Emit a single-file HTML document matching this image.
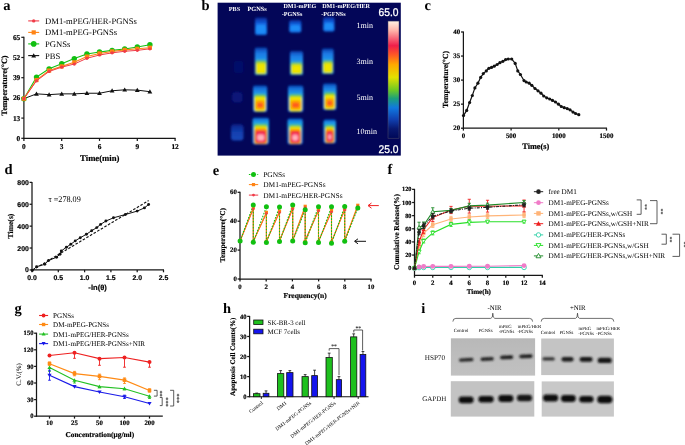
<!DOCTYPE html>
<html><head><meta charset="utf-8"><style>
html,body{margin:0;padding:0;background:#fff;width:685px;height:445px;overflow:hidden}
svg{display:block;will-change:transform;text-rendering:geometricPrecision}
</style></head><body>
<svg width="685" height="445" viewBox="0 0 685 445">
<text x="3.20" y="10.20" font-family='"Liberation Serif", serif' font-size="14.5" font-weight="bold" text-anchor="start" fill="#000">a</text>
<line x1="23.90" y1="36.70" x2="23.90" y2="138.90" stroke="#161616" stroke-width="1.2"/>
<line x1="23.30" y1="138.30" x2="175.60" y2="138.30" stroke="#161616" stroke-width="1.2"/>
<line x1="21.30" y1="138.30" x2="23.90" y2="138.30" stroke="#161616" stroke-width="1.2"/>
<text x="20.30" y="140.70" font-family='"Liberation Serif", serif' font-size="7.4" font-weight="bold" text-anchor="end" fill="#000" stroke="#000" stroke-width="0.18">0</text>
<line x1="21.30" y1="118.10" x2="23.90" y2="118.10" stroke="#161616" stroke-width="1.2"/>
<text x="20.30" y="120.50" font-family='"Liberation Serif", serif' font-size="7.4" font-weight="bold" text-anchor="end" fill="#000" stroke="#000" stroke-width="0.18">13</text>
<line x1="21.30" y1="97.90" x2="23.90" y2="97.90" stroke="#161616" stroke-width="1.2"/>
<text x="20.30" y="100.30" font-family='"Liberation Serif", serif' font-size="7.4" font-weight="bold" text-anchor="end" fill="#000" stroke="#000" stroke-width="0.18">26</text>
<line x1="21.30" y1="77.70" x2="23.90" y2="77.70" stroke="#161616" stroke-width="1.2"/>
<text x="20.30" y="80.10" font-family='"Liberation Serif", serif' font-size="7.4" font-weight="bold" text-anchor="end" fill="#000" stroke="#000" stroke-width="0.18">39</text>
<line x1="21.30" y1="57.50" x2="23.90" y2="57.50" stroke="#161616" stroke-width="1.2"/>
<text x="20.30" y="59.90" font-family='"Liberation Serif", serif' font-size="7.4" font-weight="bold" text-anchor="end" fill="#000" stroke="#000" stroke-width="0.18">52</text>
<line x1="21.30" y1="37.30" x2="23.90" y2="37.30" stroke="#161616" stroke-width="1.2"/>
<text x="20.30" y="39.70" font-family='"Liberation Serif", serif' font-size="7.4" font-weight="bold" text-anchor="end" fill="#000" stroke="#000" stroke-width="0.18">65</text>
<line x1="23.90" y1="138.30" x2="23.90" y2="140.90" stroke="#161616" stroke-width="1.2"/>
<text x="23.90" y="148.90" font-family='"Liberation Serif", serif' font-size="7.4" font-weight="bold" text-anchor="middle" fill="#000" stroke="#000" stroke-width="0.18">0</text>
<line x1="61.70" y1="138.30" x2="61.70" y2="140.90" stroke="#161616" stroke-width="1.2"/>
<text x="61.70" y="148.90" font-family='"Liberation Serif", serif' font-size="7.4" font-weight="bold" text-anchor="middle" fill="#000" stroke="#000" stroke-width="0.18">3</text>
<line x1="99.50" y1="138.30" x2="99.50" y2="140.90" stroke="#161616" stroke-width="1.2"/>
<text x="99.50" y="148.90" font-family='"Liberation Serif", serif' font-size="7.4" font-weight="bold" text-anchor="middle" fill="#000" stroke="#000" stroke-width="0.18">6</text>
<line x1="137.30" y1="138.30" x2="137.30" y2="140.90" stroke="#161616" stroke-width="1.2"/>
<text x="137.30" y="148.90" font-family='"Liberation Serif", serif' font-size="7.4" font-weight="bold" text-anchor="middle" fill="#000" stroke="#000" stroke-width="0.18">9</text>
<line x1="175.10" y1="138.30" x2="175.10" y2="140.90" stroke="#161616" stroke-width="1.2"/>
<text x="175.10" y="148.90" font-family='"Liberation Serif", serif' font-size="7.4" font-weight="bold" text-anchor="middle" fill="#000" stroke="#000" stroke-width="0.18">12</text>
<text x="99.80" y="160.80" font-family='"Liberation Serif", serif' font-size="8.7" font-weight="bold" text-anchor="middle" fill="#000" stroke="#000" stroke-width="0.18">Time(min)</text>
<text x="7.00" y="85.50" font-family='"Liberation Serif", serif' font-size="8.2" font-weight="bold" text-anchor="middle" fill="#000" transform="rotate(-90 7.0 85.5)" stroke="#000" stroke-width="0.18">Temperature(°C)</text>
<polyline points="23.90,98.68 36.50,93.86 49.10,94.64 61.70,93.86 74.30,93.86 86.90,93.24 99.50,93.24 112.10,90.75 124.70,89.82 137.30,90.13 149.90,91.68" fill="none" stroke="#111" stroke-width="1.0"/>
<polygon points="23.90,96.28 26.30,100.48 21.50,100.48" fill="#111" stroke="none" stroke-width="0"/>
<polygon points="36.50,91.46 38.90,95.66 34.10,95.66" fill="#111" stroke="none" stroke-width="0"/>
<polygon points="49.10,92.24 51.50,96.44 46.70,96.44" fill="#111" stroke="none" stroke-width="0"/>
<polygon points="61.70,91.46 64.10,95.66 59.30,95.66" fill="#111" stroke="none" stroke-width="0"/>
<polygon points="74.30,91.46 76.70,95.66 71.90,95.66" fill="#111" stroke="none" stroke-width="0"/>
<polygon points="86.90,90.84 89.30,95.04 84.50,95.04" fill="#111" stroke="none" stroke-width="0"/>
<polygon points="99.50,90.84 101.90,95.04 97.10,95.04" fill="#111" stroke="none" stroke-width="0"/>
<polygon points="112.10,88.35 114.50,92.55 109.70,92.55" fill="#111" stroke="none" stroke-width="0"/>
<polygon points="124.70,87.42 127.10,91.62 122.30,91.62" fill="#111" stroke="none" stroke-width="0"/>
<polygon points="137.30,87.73 139.70,91.93 134.90,91.93" fill="#111" stroke="none" stroke-width="0"/>
<polygon points="149.90,89.28 152.30,93.48 147.50,93.48" fill="#111" stroke="none" stroke-width="0"/>
<polyline points="23.90,98.68 36.50,77.08 49.10,68.84 61.70,63.72 74.30,58.59 86.90,53.93 99.50,52.06 112.10,50.35 124.70,48.95 137.30,46.93 149.90,44.76" fill="none" stroke="#11c011" stroke-width="1.1"/>
<circle cx="23.90" cy="98.68" r="2.7" fill="#11c011" stroke="none" stroke-width="0"/>
<circle cx="36.50" cy="77.08" r="2.7" fill="#11c011" stroke="none" stroke-width="0"/>
<circle cx="49.10" cy="68.84" r="2.7" fill="#11c011" stroke="none" stroke-width="0"/>
<circle cx="61.70" cy="63.72" r="2.7" fill="#11c011" stroke="none" stroke-width="0"/>
<circle cx="74.30" cy="58.59" r="2.7" fill="#11c011" stroke="none" stroke-width="0"/>
<circle cx="86.90" cy="53.93" r="2.7" fill="#11c011" stroke="none" stroke-width="0"/>
<circle cx="99.50" cy="52.06" r="2.7" fill="#11c011" stroke="none" stroke-width="0"/>
<circle cx="112.10" cy="50.35" r="2.7" fill="#11c011" stroke="none" stroke-width="0"/>
<circle cx="124.70" cy="48.95" r="2.7" fill="#11c011" stroke="none" stroke-width="0"/>
<circle cx="137.30" cy="46.93" r="2.7" fill="#11c011" stroke="none" stroke-width="0"/>
<circle cx="149.90" cy="44.76" r="2.7" fill="#11c011" stroke="none" stroke-width="0"/>
<polyline points="23.90,98.68 36.50,80.03 49.10,70.55 61.70,66.36 74.30,62.32 86.90,56.57 99.50,53.46 112.10,51.44 124.70,49.89 137.30,48.80 149.90,47.71" fill="none" stroke="#ff8414" stroke-width="1.1"/>
<rect x="21.80" y="96.58" width="4.2" height="4.2" fill="#ff8414" stroke="none" stroke-width="0"/>
<rect x="34.40" y="77.93" width="4.2" height="4.2" fill="#ff8414" stroke="none" stroke-width="0"/>
<rect x="47.00" y="68.45" width="4.2" height="4.2" fill="#ff8414" stroke="none" stroke-width="0"/>
<rect x="59.60" y="64.26" width="4.2" height="4.2" fill="#ff8414" stroke="none" stroke-width="0"/>
<rect x="72.20" y="60.22" width="4.2" height="4.2" fill="#ff8414" stroke="none" stroke-width="0"/>
<rect x="84.80" y="54.47" width="4.2" height="4.2" fill="#ff8414" stroke="none" stroke-width="0"/>
<rect x="97.40" y="51.36" width="4.2" height="4.2" fill="#ff8414" stroke="none" stroke-width="0"/>
<rect x="110.00" y="49.34" width="4.2" height="4.2" fill="#ff8414" stroke="none" stroke-width="0"/>
<rect x="122.60" y="47.79" width="4.2" height="4.2" fill="#ff8414" stroke="none" stroke-width="0"/>
<rect x="135.20" y="46.70" width="4.2" height="4.2" fill="#ff8414" stroke="none" stroke-width="0"/>
<rect x="147.80" y="45.61" width="4.2" height="4.2" fill="#ff8414" stroke="none" stroke-width="0"/>
<polyline points="23.90,98.68 36.50,80.81 49.10,71.48 61.70,67.13 74.30,64.03 86.90,58.28 99.50,55.01 112.10,52.84 124.70,51.28 137.30,50.35 149.90,48.80" fill="none" stroke="#f03c48" stroke-width="1.0"/>
<circle cx="23.90" cy="98.68" r="1.6" fill="#f03c48" stroke="none" stroke-width="0"/>
<circle cx="36.50" cy="80.81" r="1.6" fill="#f03c48" stroke="none" stroke-width="0"/>
<circle cx="49.10" cy="71.48" r="1.6" fill="#f03c48" stroke="none" stroke-width="0"/>
<circle cx="61.70" cy="67.13" r="1.6" fill="#f03c48" stroke="none" stroke-width="0"/>
<circle cx="74.30" cy="64.03" r="1.6" fill="#f03c48" stroke="none" stroke-width="0"/>
<circle cx="86.90" cy="58.28" r="1.6" fill="#f03c48" stroke="none" stroke-width="0"/>
<circle cx="99.50" cy="55.01" r="1.6" fill="#f03c48" stroke="none" stroke-width="0"/>
<circle cx="112.10" cy="52.84" r="1.6" fill="#f03c48" stroke="none" stroke-width="0"/>
<circle cx="124.70" cy="51.28" r="1.6" fill="#f03c48" stroke="none" stroke-width="0"/>
<circle cx="137.30" cy="50.35" r="1.6" fill="#f03c48" stroke="none" stroke-width="0"/>
<circle cx="149.90" cy="48.80" r="1.6" fill="#f03c48" stroke="none" stroke-width="0"/>
<line x1="28.20" y1="20.90" x2="39.20" y2="20.90" stroke="#f03c48" stroke-width="1.1"/>
<circle cx="33.70" cy="20.90" r="1.7" fill="#f03c48" stroke="none" stroke-width="0"/>
<text x="45.10" y="23.80" font-family='"Liberation Serif", serif' font-size="8.6" font-weight="normal" text-anchor="start" fill="#000">DM1-mPEG/HER-PGNSs</text>
<line x1="28.20" y1="32.40" x2="39.20" y2="32.40" stroke="#ff8414" stroke-width="1.1"/>
<rect x="31.60" y="30.30" width="4.2" height="4.2" fill="#ff8414" stroke="none" stroke-width="0"/>
<text x="45.10" y="35.30" font-family='"Liberation Serif", serif' font-size="8.6" font-weight="normal" text-anchor="start" fill="#000">DM1-mPEG-PGNSs</text>
<line x1="28.20" y1="43.90" x2="39.20" y2="43.90" stroke="#11c011" stroke-width="1.1"/>
<circle cx="33.70" cy="43.90" r="2.8" fill="#11c011" stroke="none" stroke-width="0"/>
<text x="45.10" y="46.80" font-family='"Liberation Serif", serif' font-size="8.6" font-weight="normal" text-anchor="start" fill="#000">PGNSs</text>
<line x1="28.20" y1="55.60" x2="39.20" y2="55.60" stroke="#111" stroke-width="1.1"/>
<polygon points="33.70,53.20 36.10,57.40 31.30,57.40" fill="#111" stroke="none" stroke-width="0"/>
<text x="45.10" y="58.50" font-family='"Liberation Serif", serif' font-size="8.6" font-weight="normal" text-anchor="start" fill="#000">PBS</text>
<text x="201.60" y="9.80" font-family='"Liberation Serif", serif' font-size="14.5" font-weight="bold" text-anchor="start" fill="#000">b</text>
<defs><filter id="bl1" x="-50%" y="-50%" width="200%" height="200%"><feGaussianBlur stdDeviation="1.15"/></filter><filter id="bl2" x="-50%" y="-50%" width="200%" height="200%"><feGaussianBlur stdDeviation="0.7"/></filter><linearGradient id="cbar" x1="0" y1="0" x2="0" y2="1"><stop offset="0" stop-color="#fff2e4"/><stop offset="0.08" stop-color="#ffb4aa"/><stop offset="0.21" stop-color="#f01e4a"/><stop offset="0.29" stop-color="#ff5a24"/><stop offset="0.37" stop-color="#ffa800"/><stop offset="0.48" stop-color="#e4e000"/><stop offset="0.59" stop-color="#6cc824"/><stop offset="0.66" stop-color="#1ca07a"/><stop offset="0.74" stop-color="#1078e0"/><stop offset="0.84" stop-color="#1040b0"/><stop offset="0.92" stop-color="#081870"/><stop offset="1" stop-color="#000858"/></linearGradient></defs>
<rect x="217.6" y="2.7" width="183.20000000000002" height="152.9" fill="#030658"/>
<defs><linearGradient id="gpbs" x1="0" y1="0" x2="0" y2="1"><stop offset="0" stop-color="#0a2088"/><stop offset="0.5" stop-color="#1240b0"/><stop offset="1" stop-color="#1448b8"/></linearGradient><linearGradient id="gb1" x1="0" y1="0" x2="0" y2="1"><stop offset="0" stop-color="#0a2898"/><stop offset="0.35" stop-color="#1262e0"/><stop offset="0.7" stop-color="#1680f0"/><stop offset="1" stop-color="#1478ec"/></linearGradient><linearGradient id="gb3" x1="0" y1="0" x2="0" y2="1"><stop offset="0" stop-color="#0a3aa8"/><stop offset="0.2" stop-color="#1a78e4"/><stop offset="0.45" stop-color="#2296ec"/><stop offset="1" stop-color="#2296ec"/></linearGradient><linearGradient id="gb5" x1="0" y1="0" x2="0" y2="1"><stop offset="0" stop-color="#0a48b8"/><stop offset="0.18" stop-color="#1a80e4"/><stop offset="0.34" stop-color="#22a0e8"/><stop offset="1" stop-color="#1a70e0"/></linearGradient><linearGradient id="gb10" x1="0" y1="0" x2="0" y2="1"><stop offset="0" stop-color="#0a58c8"/><stop offset="0.12" stop-color="#1a90e8"/><stop offset="0.22" stop-color="#22a8e0"/><stop offset="1" stop-color="#1a70e0"/></linearGradient></defs>
<g filter="url(#bl1)"><rect x="255.00" y="17.50" width="12.00" height="17.50" rx="2" fill="url(#gb1)"/><rect x="256.50" y="24.85" width="9.00" height="8.15" rx="2" fill="#1c8cf8"/><rect x="289.20" y="20.00" width="12.10" height="12.50" rx="2" fill="url(#gb1)"/><rect x="290.70" y="25.25" width="9.10" height="5.25" rx="2" fill="#1c8cf8"/><rect x="323.20" y="17.00" width="11.30" height="14.50" rx="2" fill="url(#gb1)"/><rect x="324.70" y="23.09" width="8.30" height="6.41" rx="2" fill="#1c8cf8"/><rect x="234.00" y="61.00" width="9.50" height="12.00" rx="3" fill="#050c6a"/><rect x="254.80" y="47.40" width="12.40" height="27.60" rx="1.5" fill="url(#gb3)"/><rect x="255.40" y="60.37" width="11.20" height="14.03" rx="2" fill="#60c060"/><rect x="256.00" y="62.58" width="10.00" height="11.22" rx="2" fill="#d8e000"/><rect x="257.00" y="64.51" width="8.00" height="8.29" rx="2" fill="#f0e400"/><rect x="290.00" y="51.00" width="13.00" height="24.00" rx="1.5" fill="url(#gb3)"/><rect x="290.60" y="62.28" width="11.80" height="12.12" rx="2" fill="#60c060"/><rect x="291.20" y="64.20" width="10.60" height="9.60" rx="2" fill="#d8e000"/><rect x="292.20" y="65.88" width="8.60" height="6.92" rx="2" fill="#f0e400"/><rect x="322.00" y="48.40" width="11.60" height="25.60" rx="1.5" fill="url(#gb3)"/><rect x="322.60" y="60.43" width="10.40" height="12.97" rx="2" fill="#60c060"/><rect x="323.20" y="62.48" width="9.20" height="10.32" rx="2" fill="#d8e000"/><rect x="324.20" y="64.27" width="7.20" height="7.53" rx="2" fill="#f0e400"/><rect x="232.00" y="92.00" width="10.50" height="10.50" rx="3" fill="#071278"/><rect x="253.00" y="85.40" width="14.20" height="26.60" rx="2" fill="url(#gb5)"/><rect x="254.20" y="94.44" width="11.80" height="17.16" rx="2" fill="#68c838"/><rect x="254.40" y="96.84" width="11.40" height="14.46" rx="2" fill="#f0e400"/><rect x="255.60" y="100.30" width="9.00" height="9.30" rx="2" fill="#ffa000"/><rect x="257.00" y="102.69" width="6.20" height="4.91" rx="2" fill="#ff5a1c"/><rect x="288.00" y="85.40" width="15.30" height="26.60" rx="2" fill="url(#gb5)"/><rect x="289.20" y="94.44" width="12.90" height="17.16" rx="2" fill="#68c838"/><rect x="289.40" y="96.84" width="12.50" height="14.46" rx="2" fill="#f0e400"/><rect x="290.60" y="100.30" width="10.10" height="9.30" rx="2" fill="#ffa000"/><rect x="292.00" y="102.69" width="7.30" height="4.91" rx="2" fill="#ff5a1c"/><rect x="323.00" y="83.50" width="13.50" height="26.50" rx="2" fill="url(#gb5)"/><rect x="324.20" y="92.51" width="11.10" height="17.09" rx="2" fill="#68c838"/><rect x="324.40" y="94.89" width="10.70" height="14.41" rx="2" fill="#f0e400"/><rect x="325.60" y="98.34" width="8.30" height="9.26" rx="2" fill="#ffa000"/><rect x="327.00" y="100.72" width="5.50" height="4.88" rx="2" fill="#ff5a1c"/><rect x="231.00" y="124.30" width="12.50" height="16.20" rx="3" fill="url(#gpbs)"/><rect x="252.50" y="117.70" width="16.50" height="26.60" rx="2" fill="url(#gb10)"/><rect x="254.10" y="124.08" width="13.30" height="20.02" rx="2" fill="#60c840"/><rect x="254.30" y="126.21" width="12.90" height="17.79" rx="2" fill="#f0e000"/><rect x="254.90" y="128.87" width="11.70" height="14.53" rx="2" fill="#ff7a00"/><rect x="255.50" y="131.00" width="10.50" height="11.80" rx="2" fill="#f01848"/><rect x="256.80" y="133.66" width="7.90" height="7.44" rx="2" fill="#ff7898"/><rect x="257.60" y="135.26" width="6.30" height="4.64" rx="2" fill="#ffb4bc"/><rect x="287.50" y="118.60" width="15.30" height="25.70" rx="2" fill="url(#gb10)"/><rect x="289.10" y="124.77" width="12.10" height="19.33" rx="2" fill="#60c840"/><rect x="289.30" y="126.82" width="11.70" height="17.18" rx="2" fill="#f0e000"/><rect x="289.90" y="129.39" width="10.50" height="14.01" rx="2" fill="#ff7a00"/><rect x="290.50" y="131.45" width="9.30" height="11.35" rx="2" fill="#f01848"/><rect x="291.80" y="134.02" width="6.70" height="7.08" rx="2" fill="#ff7898"/><rect x="292.60" y="135.56" width="5.10" height="4.34" rx="2" fill="#ffb4bc"/><rect x="323.50" y="119.60" width="12.50" height="23.70" rx="2" fill="url(#gb10)"/><rect x="325.10" y="125.29" width="9.30" height="17.81" rx="2" fill="#60c840"/><rect x="325.30" y="127.18" width="8.90" height="15.82" rx="2" fill="#f0e000"/><rect x="325.90" y="129.55" width="7.70" height="12.85" rx="2" fill="#ff7a00"/><rect x="326.50" y="131.45" width="6.50" height="10.35" rx="2" fill="#f01848"/><rect x="327.80" y="133.82" width="3.90" height="6.28" rx="2" fill="#ff7898"/><rect x="328.60" y="135.24" width="2.30" height="3.66" rx="2" fill="#ffb4bc"/></g>
<rect x="388.0" y="21.1" width="11" height="117.1" fill="url(#cbar)" stroke="#50506a" stroke-width="0.5"/>
<text x="388.50" y="16.30" font-family='"Liberation Sans", sans-serif' font-size="11.2" font-weight="normal" text-anchor="middle" fill="#fff" stroke="#fff" stroke-width="0.3" textLength="20" lengthAdjust="spacingAndGlyphs">65.0</text>
<text x="388.50" y="153.30" font-family='"Liberation Sans", sans-serif' font-size="11.2" font-weight="normal" text-anchor="middle" fill="#fff" stroke="#fff" stroke-width="0.3" textLength="20" lengthAdjust="spacingAndGlyphs">25.0</text>
<text x="356.60" y="27.80" font-family='"Liberation Serif", serif' font-size="8.0" font-weight="normal" text-anchor="start" fill="#fff">1min</text>
<text x="356.60" y="64.00" font-family='"Liberation Serif", serif' font-size="8.0" font-weight="normal" text-anchor="start" fill="#fff">3min</text>
<text x="356.60" y="99.50" font-family='"Liberation Serif", serif' font-size="8.0" font-weight="normal" text-anchor="start" fill="#fff">5min</text>
<text x="356.60" y="134.40" font-family='"Liberation Serif", serif' font-size="8.0" font-weight="normal" text-anchor="start" fill="#fff">10min</text>
<text x="228.80" y="10.60" font-family='"Liberation Serif", serif' font-size="6.2" font-weight="bold" text-anchor="start" fill="#fff">PBS</text>
<text x="247.40" y="10.60" font-family='"Liberation Serif", serif' font-size="6.35" font-weight="bold" text-anchor="start" fill="#fff">PGNSs</text>
<text x="283.40" y="8.20" font-family='"Liberation Serif", serif' font-size="6.1" font-weight="bold" text-anchor="start" fill="#fff">DM1-mPEG</text>
<text x="281.70" y="15.80" font-family='"Liberation Serif", serif' font-size="6.1" font-weight="bold" text-anchor="start" fill="#fff">-PGNSs</text>
<text x="322.20" y="8.20" font-family='"Liberation Serif", serif' font-size="6.1" font-weight="bold" text-anchor="start" fill="#fff">DM1-mPEG/HER</text>
<text x="321.20" y="15.80" font-family='"Liberation Serif", serif' font-size="6.1" font-weight="bold" text-anchor="start" fill="#fff">-PGFNSs</text>
<text x="424.60" y="10.00" font-family='"Liberation Serif", serif' font-size="14.5" font-weight="bold" text-anchor="start" fill="#000">c</text>
<line x1="463.40" y1="31.50" x2="463.40" y2="128.70" stroke="#161616" stroke-width="1.25"/>
<line x1="461.00" y1="128.20" x2="463.40" y2="128.20" stroke="#161616" stroke-width="1.25"/>
<text x="460.20" y="130.10" font-family='"Liberation Serif", serif' font-size="6.9" font-weight="bold" text-anchor="end" fill="#000" stroke="#000" stroke-width="0.18">20</text>
<line x1="461.00" y1="104.15" x2="463.40" y2="104.15" stroke="#161616" stroke-width="1.25"/>
<text x="460.20" y="106.05" font-family='"Liberation Serif", serif' font-size="6.9" font-weight="bold" text-anchor="end" fill="#000" stroke="#000" stroke-width="0.18">25</text>
<line x1="461.00" y1="80.10" x2="463.40" y2="80.10" stroke="#161616" stroke-width="1.25"/>
<text x="460.20" y="82.00" font-family='"Liberation Serif", serif' font-size="6.9" font-weight="bold" text-anchor="end" fill="#000" stroke="#000" stroke-width="0.18">30</text>
<line x1="461.00" y1="56.05" x2="463.40" y2="56.05" stroke="#161616" stroke-width="1.25"/>
<text x="460.20" y="57.95" font-family='"Liberation Serif", serif' font-size="6.9" font-weight="bold" text-anchor="end" fill="#000" stroke="#000" stroke-width="0.18">35</text>
<line x1="461.00" y1="32.00" x2="463.40" y2="32.00" stroke="#161616" stroke-width="1.25"/>
<text x="460.20" y="33.90" font-family='"Liberation Serif", serif' font-size="6.9" font-weight="bold" text-anchor="end" fill="#000" stroke="#000" stroke-width="0.18">40</text>
<line x1="462.90" y1="128.20" x2="607.00" y2="128.20" stroke="#161616" stroke-width="1.25"/>
<line x1="463.40" y1="128.20" x2="463.40" y2="130.60" stroke="#161616" stroke-width="1.25"/>
<text x="463.40" y="137.90" font-family='"Liberation Serif", serif' font-size="6.9" font-weight="bold" text-anchor="middle" fill="#000" stroke="#000" stroke-width="0.18">0</text>
<line x1="511.10" y1="128.20" x2="511.10" y2="130.60" stroke="#161616" stroke-width="1.25"/>
<text x="511.10" y="137.90" font-family='"Liberation Serif", serif' font-size="6.9" font-weight="bold" text-anchor="middle" fill="#000" stroke="#000" stroke-width="0.18">500</text>
<line x1="558.80" y1="128.20" x2="558.80" y2="130.60" stroke="#161616" stroke-width="1.25"/>
<text x="558.80" y="137.90" font-family='"Liberation Serif", serif' font-size="6.9" font-weight="bold" text-anchor="middle" fill="#000" stroke="#000" stroke-width="0.18">1000</text>
<line x1="606.50" y1="128.20" x2="606.50" y2="130.60" stroke="#161616" stroke-width="1.25"/>
<text x="606.50" y="137.90" font-family='"Liberation Serif", serif' font-size="6.9" font-weight="bold" text-anchor="middle" fill="#000" stroke="#000" stroke-width="0.18">1500</text>
<text x="535.80" y="149.20" font-family='"Liberation Serif", serif' font-size="8.3" font-weight="bold" text-anchor="middle" fill="#000" stroke="#000" stroke-width="0.18">Time(s)</text>
<text x="448.40" y="79.40" font-family='"Liberation Serif", serif' font-size="7.8" font-weight="bold" text-anchor="middle" fill="#000" transform="rotate(-90 448.4 79.4)" stroke="#000" stroke-width="0.18">Temperature(°C)</text>
<polyline points="463.50,115.60 466.70,110.40 469.60,102.50 472.30,95.50 474.90,87.90 477.90,83.20 480.70,77.40 483.30,73.60 486.30,70.90 488.90,68.30 491.50,67.40 494.20,66.20 497.10,64.50 499.90,62.70 502.90,61.30 505.60,59.60 508.20,59.00 511.70,59.00 515.20,63.40 517.80,70.90 520.40,74.50 524.00,80.60 526.20,82.00 529.20,83.20 531.80,85.30 535.00,88.50 538.00,90.80 541.00,93.20 543.70,96.00 546.70,97.80 549.70,99.00 552.50,100.40 555.50,102.00 558.50,104.20 561.30,106.50 564.20,107.70 567.20,108.60 570.00,109.80 573.00,112.10 575.60,113.50 578.80,114.70" fill="none" stroke="#111" stroke-width="1.2"/>
<circle cx="463.50" cy="115.60" r="1.6" fill="#111" stroke="none" stroke-width="0"/>
<circle cx="466.70" cy="110.40" r="1.6" fill="#111" stroke="none" stroke-width="0"/>
<circle cx="469.60" cy="102.50" r="1.6" fill="#111" stroke="none" stroke-width="0"/>
<circle cx="472.30" cy="95.50" r="1.6" fill="#111" stroke="none" stroke-width="0"/>
<circle cx="474.90" cy="87.90" r="1.6" fill="#111" stroke="none" stroke-width="0"/>
<circle cx="477.90" cy="83.20" r="1.6" fill="#111" stroke="none" stroke-width="0"/>
<circle cx="480.70" cy="77.40" r="1.6" fill="#111" stroke="none" stroke-width="0"/>
<circle cx="483.30" cy="73.60" r="1.6" fill="#111" stroke="none" stroke-width="0"/>
<circle cx="486.30" cy="70.90" r="1.6" fill="#111" stroke="none" stroke-width="0"/>
<circle cx="488.90" cy="68.30" r="1.6" fill="#111" stroke="none" stroke-width="0"/>
<circle cx="491.50" cy="67.40" r="1.6" fill="#111" stroke="none" stroke-width="0"/>
<circle cx="494.20" cy="66.20" r="1.6" fill="#111" stroke="none" stroke-width="0"/>
<circle cx="497.10" cy="64.50" r="1.6" fill="#111" stroke="none" stroke-width="0"/>
<circle cx="499.90" cy="62.70" r="1.6" fill="#111" stroke="none" stroke-width="0"/>
<circle cx="502.90" cy="61.30" r="1.6" fill="#111" stroke="none" stroke-width="0"/>
<circle cx="505.60" cy="59.60" r="1.6" fill="#111" stroke="none" stroke-width="0"/>
<circle cx="508.20" cy="59.00" r="1.6" fill="#111" stroke="none" stroke-width="0"/>
<circle cx="511.70" cy="59.00" r="1.6" fill="#111" stroke="none" stroke-width="0"/>
<circle cx="515.20" cy="63.40" r="1.6" fill="#111" stroke="none" stroke-width="0"/>
<circle cx="517.80" cy="70.90" r="1.6" fill="#111" stroke="none" stroke-width="0"/>
<circle cx="520.40" cy="74.50" r="1.6" fill="#111" stroke="none" stroke-width="0"/>
<circle cx="524.00" cy="80.60" r="1.6" fill="#111" stroke="none" stroke-width="0"/>
<circle cx="526.20" cy="82.00" r="1.6" fill="#111" stroke="none" stroke-width="0"/>
<circle cx="529.20" cy="83.20" r="1.6" fill="#111" stroke="none" stroke-width="0"/>
<circle cx="531.80" cy="85.30" r="1.6" fill="#111" stroke="none" stroke-width="0"/>
<circle cx="535.00" cy="88.50" r="1.6" fill="#111" stroke="none" stroke-width="0"/>
<circle cx="538.00" cy="90.80" r="1.6" fill="#111" stroke="none" stroke-width="0"/>
<circle cx="541.00" cy="93.20" r="1.6" fill="#111" stroke="none" stroke-width="0"/>
<circle cx="543.70" cy="96.00" r="1.6" fill="#111" stroke="none" stroke-width="0"/>
<circle cx="546.70" cy="97.80" r="1.6" fill="#111" stroke="none" stroke-width="0"/>
<circle cx="549.70" cy="99.00" r="1.6" fill="#111" stroke="none" stroke-width="0"/>
<circle cx="552.50" cy="100.40" r="1.6" fill="#111" stroke="none" stroke-width="0"/>
<circle cx="555.50" cy="102.00" r="1.6" fill="#111" stroke="none" stroke-width="0"/>
<circle cx="558.50" cy="104.20" r="1.6" fill="#111" stroke="none" stroke-width="0"/>
<circle cx="561.30" cy="106.50" r="1.6" fill="#111" stroke="none" stroke-width="0"/>
<circle cx="564.20" cy="107.70" r="1.6" fill="#111" stroke="none" stroke-width="0"/>
<circle cx="567.20" cy="108.60" r="1.6" fill="#111" stroke="none" stroke-width="0"/>
<circle cx="570.00" cy="109.80" r="1.6" fill="#111" stroke="none" stroke-width="0"/>
<circle cx="573.00" cy="112.10" r="1.6" fill="#111" stroke="none" stroke-width="0"/>
<circle cx="575.60" cy="113.50" r="1.6" fill="#111" stroke="none" stroke-width="0"/>
<circle cx="578.80" cy="114.70" r="1.6" fill="#111" stroke="none" stroke-width="0"/>
<text x="4.60" y="174.00" font-family='"Liberation Serif", serif' font-size="14.5" font-weight="bold" text-anchor="start" fill="#000">d</text>
<line x1="32.00" y1="181.88" x2="32.00" y2="270.40" stroke="#161616" stroke-width="1.25"/>
<line x1="29.60" y1="269.90" x2="32.00" y2="269.90" stroke="#161616" stroke-width="1.25"/>
<text x="28.80" y="272.40" font-family='"Liberation Sans", sans-serif' font-size="6.9" font-weight="bold" text-anchor="end" fill="#000" stroke="#000" stroke-width="0.18">0</text>
<line x1="29.60" y1="248.02" x2="32.00" y2="248.02" stroke="#161616" stroke-width="1.25"/>
<text x="28.80" y="250.52" font-family='"Liberation Sans", sans-serif' font-size="6.9" font-weight="bold" text-anchor="end" fill="#000" stroke="#000" stroke-width="0.18">200</text>
<line x1="29.60" y1="226.14" x2="32.00" y2="226.14" stroke="#161616" stroke-width="1.25"/>
<text x="28.80" y="228.64" font-family='"Liberation Sans", sans-serif' font-size="6.9" font-weight="bold" text-anchor="end" fill="#000" stroke="#000" stroke-width="0.18">400</text>
<line x1="29.60" y1="204.26" x2="32.00" y2="204.26" stroke="#161616" stroke-width="1.25"/>
<text x="28.80" y="206.76" font-family='"Liberation Sans", sans-serif' font-size="6.9" font-weight="bold" text-anchor="end" fill="#000" stroke="#000" stroke-width="0.18">600</text>
<line x1="29.60" y1="182.38" x2="32.00" y2="182.38" stroke="#161616" stroke-width="1.25"/>
<text x="28.80" y="184.88" font-family='"Liberation Sans", sans-serif' font-size="6.9" font-weight="bold" text-anchor="end" fill="#000" stroke="#000" stroke-width="0.18">800</text>
<line x1="31.50" y1="269.90" x2="164.00" y2="269.90" stroke="#161616" stroke-width="1.25"/>
<line x1="32.00" y1="269.90" x2="32.00" y2="272.30" stroke="#161616" stroke-width="1.25"/>
<text x="32.00" y="280.40" font-family='"Liberation Sans", sans-serif' font-size="6.9" font-weight="bold" text-anchor="middle" fill="#000" stroke="#000" stroke-width="0.18">0.0</text>
<line x1="58.30" y1="269.90" x2="58.30" y2="272.30" stroke="#161616" stroke-width="1.25"/>
<text x="58.30" y="280.40" font-family='"Liberation Sans", sans-serif' font-size="6.9" font-weight="bold" text-anchor="middle" fill="#000" stroke="#000" stroke-width="0.18">0.5</text>
<line x1="84.60" y1="269.90" x2="84.60" y2="272.30" stroke="#161616" stroke-width="1.25"/>
<text x="84.60" y="280.40" font-family='"Liberation Sans", sans-serif' font-size="6.9" font-weight="bold" text-anchor="middle" fill="#000" stroke="#000" stroke-width="0.18">1.0</text>
<line x1="110.90" y1="269.90" x2="110.90" y2="272.30" stroke="#161616" stroke-width="1.25"/>
<text x="110.90" y="280.40" font-family='"Liberation Sans", sans-serif' font-size="6.9" font-weight="bold" text-anchor="middle" fill="#000" stroke="#000" stroke-width="0.18">1.5</text>
<line x1="137.20" y1="269.90" x2="137.20" y2="272.30" stroke="#161616" stroke-width="1.25"/>
<text x="137.20" y="280.40" font-family='"Liberation Sans", sans-serif' font-size="6.9" font-weight="bold" text-anchor="middle" fill="#000" stroke="#000" stroke-width="0.18">2.0</text>
<line x1="163.50" y1="269.90" x2="163.50" y2="272.30" stroke="#161616" stroke-width="1.25"/>
<text x="163.50" y="280.40" font-family='"Liberation Sans", sans-serif' font-size="6.9" font-weight="bold" text-anchor="middle" fill="#000" stroke="#000" stroke-width="0.18">2.5</text>
<text x="97.60" y="290.20" font-family='"Liberation Sans", sans-serif' font-size="7.6" font-weight="bold" text-anchor="middle" fill="#000" stroke="#000" stroke-width="0.18">-ln(θ)</text>
<text x="13.00" y="226.00" font-family='"Liberation Serif", serif' font-size="7.6" font-weight="bold" text-anchor="middle" fill="#000" transform="rotate(-90 13.0 226.0)" stroke="#000" stroke-width="0.18">Time(s)</text>
<text x="48.40" y="201.90" font-family='"Liberation Serif", serif' font-size="8.7" font-weight="normal" text-anchor="start" fill="#000" textLength="32.4" lengthAdjust="spacingAndGlyphs">τ =278.09</text>
<line x1="32.30" y1="270.20" x2="148.60" y2="200.60" stroke="#111" stroke-width="1.15" stroke-dasharray="2.6,1.6"/>
<polyline points="32.30,270.50 36.60,266.70 44.80,264.30 48.60,260.50 56.60,257.20 60.00,254.20 61.30,251.00 66.40,247.20 70.80,244.30 75.20,240.90 80.30,237.70 86.40,234.30 91.70,230.70 96.80,227.60 100.60,224.40 105.90,221.00 113.50,217.80 125.40,214.50 137.20,211.10 144.40,207.90 148.60,204.50" fill="none" stroke="#111" stroke-width="1.0"/>
<circle cx="32.30" cy="270.50" r="1.45" fill="#111" stroke="none" stroke-width="0"/>
<circle cx="36.60" cy="266.70" r="1.45" fill="#111" stroke="none" stroke-width="0"/>
<circle cx="44.80" cy="264.30" r="1.45" fill="#111" stroke="none" stroke-width="0"/>
<circle cx="48.60" cy="260.50" r="1.45" fill="#111" stroke="none" stroke-width="0"/>
<circle cx="56.60" cy="257.20" r="1.45" fill="#111" stroke="none" stroke-width="0"/>
<circle cx="60.00" cy="254.20" r="1.45" fill="#111" stroke="none" stroke-width="0"/>
<circle cx="61.30" cy="251.00" r="1.45" fill="#111" stroke="none" stroke-width="0"/>
<circle cx="66.40" cy="247.20" r="1.45" fill="#111" stroke="none" stroke-width="0"/>
<circle cx="70.80" cy="244.30" r="1.45" fill="#111" stroke="none" stroke-width="0"/>
<circle cx="75.20" cy="240.90" r="1.45" fill="#111" stroke="none" stroke-width="0"/>
<circle cx="80.30" cy="237.70" r="1.45" fill="#111" stroke="none" stroke-width="0"/>
<circle cx="86.40" cy="234.30" r="1.45" fill="#111" stroke="none" stroke-width="0"/>
<circle cx="91.70" cy="230.70" r="1.45" fill="#111" stroke="none" stroke-width="0"/>
<circle cx="96.80" cy="227.60" r="1.45" fill="#111" stroke="none" stroke-width="0"/>
<circle cx="100.60" cy="224.40" r="1.45" fill="#111" stroke="none" stroke-width="0"/>
<circle cx="105.90" cy="221.00" r="1.45" fill="#111" stroke="none" stroke-width="0"/>
<circle cx="113.50" cy="217.80" r="1.45" fill="#111" stroke="none" stroke-width="0"/>
<circle cx="125.40" cy="214.50" r="1.45" fill="#111" stroke="none" stroke-width="0"/>
<circle cx="137.20" cy="211.10" r="1.45" fill="#111" stroke="none" stroke-width="0"/>
<circle cx="144.40" cy="207.90" r="1.45" fill="#111" stroke="none" stroke-width="0"/>
<circle cx="148.60" cy="204.50" r="1.45" fill="#111" stroke="none" stroke-width="0"/>
<text x="212.80" y="174.80" font-family='"Liberation Serif", serif' font-size="14.5" font-weight="bold" text-anchor="start" fill="#000">e</text>
<line x1="240.00" y1="191.80" x2="240.00" y2="279.50" stroke="#161616" stroke-width="1.25"/>
<line x1="237.60" y1="279.00" x2="240.00" y2="279.00" stroke="#161616" stroke-width="1.25"/>
<text x="236.80" y="280.80" font-family='"Liberation Serif", serif' font-size="6.8" font-weight="bold" text-anchor="end" fill="#000" stroke="#000" stroke-width="0.18">0</text>
<line x1="237.60" y1="250.10" x2="240.00" y2="250.10" stroke="#161616" stroke-width="1.25"/>
<text x="236.80" y="251.90" font-family='"Liberation Serif", serif' font-size="6.8" font-weight="bold" text-anchor="end" fill="#000" stroke="#000" stroke-width="0.18">20</text>
<line x1="237.60" y1="221.20" x2="240.00" y2="221.20" stroke="#161616" stroke-width="1.25"/>
<text x="236.80" y="223.00" font-family='"Liberation Serif", serif' font-size="6.8" font-weight="bold" text-anchor="end" fill="#000" stroke="#000" stroke-width="0.18">40</text>
<line x1="237.60" y1="192.30" x2="240.00" y2="192.30" stroke="#161616" stroke-width="1.25"/>
<text x="236.80" y="194.10" font-family='"Liberation Serif", serif' font-size="6.8" font-weight="bold" text-anchor="end" fill="#000" stroke="#000" stroke-width="0.18">60</text>
<line x1="239.50" y1="279.00" x2="371.50" y2="279.00" stroke="#161616" stroke-width="1.25"/>
<line x1="240.00" y1="279.00" x2="240.00" y2="281.40" stroke="#161616" stroke-width="1.25"/>
<text x="240.00" y="288.70" font-family='"Liberation Serif", serif' font-size="6.8" font-weight="bold" text-anchor="middle" fill="#000" stroke="#000" stroke-width="0.18">0</text>
<line x1="266.20" y1="279.00" x2="266.20" y2="281.40" stroke="#161616" stroke-width="1.25"/>
<text x="266.20" y="288.70" font-family='"Liberation Serif", serif' font-size="6.8" font-weight="bold" text-anchor="middle" fill="#000" stroke="#000" stroke-width="0.18">2</text>
<line x1="292.40" y1="279.00" x2="292.40" y2="281.40" stroke="#161616" stroke-width="1.25"/>
<text x="292.40" y="288.70" font-family='"Liberation Serif", serif' font-size="6.8" font-weight="bold" text-anchor="middle" fill="#000" stroke="#000" stroke-width="0.18">4</text>
<line x1="318.60" y1="279.00" x2="318.60" y2="281.40" stroke="#161616" stroke-width="1.25"/>
<text x="318.60" y="288.70" font-family='"Liberation Serif", serif' font-size="6.8" font-weight="bold" text-anchor="middle" fill="#000" stroke="#000" stroke-width="0.18">6</text>
<line x1="344.80" y1="279.00" x2="344.80" y2="281.40" stroke="#161616" stroke-width="1.25"/>
<text x="344.80" y="288.70" font-family='"Liberation Serif", serif' font-size="6.8" font-weight="bold" text-anchor="middle" fill="#000" stroke="#000" stroke-width="0.18">8</text>
<line x1="371.00" y1="279.00" x2="371.00" y2="281.40" stroke="#161616" stroke-width="1.25"/>
<text x="371.00" y="288.70" font-family='"Liberation Serif", serif' font-size="6.8" font-weight="bold" text-anchor="middle" fill="#000" stroke="#000" stroke-width="0.18">10</text>
<text x="305.20" y="298.20" font-family='"Liberation Serif", serif' font-size="7.5" font-weight="bold" text-anchor="middle" fill="#000" stroke="#000" stroke-width="0.18">Frequency(n)</text>
<text x="225.40" y="235.10" font-family='"Liberation Serif", serif' font-size="7.4" font-weight="bold" text-anchor="middle" fill="#000" transform="rotate(-90 225.4 235.1)" stroke="#000" stroke-width="0.18">Temperature(°C)</text>
<polyline points="240.10,241.00 253.30,209.00 253.30,241.20 266.40,213.50 266.40,241.20 279.50,212.50 279.50,240.80 292.70,209.00 292.70,240.30 305.20,207.50 305.20,240.00 318.50,211.00 318.50,241.20 331.50,212.00 331.50,241.50 344.70,210.00 344.70,240.50 357.80,206.50" fill="none" stroke="#f03c48" stroke-width="1.0"/>
<polyline points="240.10,241.00 253.30,207.70 253.30,241.50 266.40,212.40 266.40,241.50 279.50,211.20 279.50,241.00 292.70,207.70 292.70,240.50 305.20,206.30 305.20,241.50 318.50,209.80 318.50,241.50 331.50,210.60 331.50,242.00 344.70,209.10 344.70,240.80 357.80,205.30" fill="none" stroke="#ff8414" stroke-width="1.1"/>
<polyline points="240.10,241.00 253.30,205.10 253.30,242.20 266.40,206.80 266.40,242.40 279.50,207.10 279.50,241.60 292.70,205.10 292.70,241.00 305.20,209.80 305.20,242.70 318.50,206.70 318.50,242.50 331.50,206.70 331.50,243.30 344.70,206.50 344.70,241.30 357.80,208.00" fill="none" stroke="#11c011" stroke-width="1.1" stroke-dasharray="1.6,1.4"/>
<rect x="238.50" y="239.40" width="3.2" height="3.2" fill="#ff8414" stroke="none" stroke-width="0"/>
<rect x="251.70" y="206.10" width="3.2" height="3.2" fill="#ff8414" stroke="none" stroke-width="0"/>
<rect x="251.70" y="239.90" width="3.2" height="3.2" fill="#ff8414" stroke="none" stroke-width="0"/>
<circle cx="253.30" cy="209.00" r="1.3" fill="#f03c48" stroke="none" stroke-width="0"/>
<rect x="264.80" y="210.80" width="3.2" height="3.2" fill="#ff8414" stroke="none" stroke-width="0"/>
<rect x="264.80" y="239.90" width="3.2" height="3.2" fill="#ff8414" stroke="none" stroke-width="0"/>
<circle cx="266.40" cy="213.50" r="1.3" fill="#f03c48" stroke="none" stroke-width="0"/>
<rect x="277.90" y="209.60" width="3.2" height="3.2" fill="#ff8414" stroke="none" stroke-width="0"/>
<rect x="277.90" y="239.40" width="3.2" height="3.2" fill="#ff8414" stroke="none" stroke-width="0"/>
<circle cx="279.50" cy="212.50" r="1.3" fill="#f03c48" stroke="none" stroke-width="0"/>
<rect x="291.10" y="206.10" width="3.2" height="3.2" fill="#ff8414" stroke="none" stroke-width="0"/>
<rect x="291.10" y="238.90" width="3.2" height="3.2" fill="#ff8414" stroke="none" stroke-width="0"/>
<circle cx="292.70" cy="209.00" r="1.3" fill="#f03c48" stroke="none" stroke-width="0"/>
<rect x="303.60" y="204.70" width="3.2" height="3.2" fill="#ff8414" stroke="none" stroke-width="0"/>
<rect x="303.60" y="239.90" width="3.2" height="3.2" fill="#ff8414" stroke="none" stroke-width="0"/>
<circle cx="305.20" cy="207.50" r="1.3" fill="#f03c48" stroke="none" stroke-width="0"/>
<rect x="316.90" y="208.20" width="3.2" height="3.2" fill="#ff8414" stroke="none" stroke-width="0"/>
<rect x="316.90" y="239.90" width="3.2" height="3.2" fill="#ff8414" stroke="none" stroke-width="0"/>
<circle cx="318.50" cy="211.00" r="1.3" fill="#f03c48" stroke="none" stroke-width="0"/>
<rect x="329.90" y="209.00" width="3.2" height="3.2" fill="#ff8414" stroke="none" stroke-width="0"/>
<rect x="329.90" y="240.40" width="3.2" height="3.2" fill="#ff8414" stroke="none" stroke-width="0"/>
<circle cx="331.50" cy="212.00" r="1.3" fill="#f03c48" stroke="none" stroke-width="0"/>
<rect x="343.10" y="207.50" width="3.2" height="3.2" fill="#ff8414" stroke="none" stroke-width="0"/>
<rect x="343.10" y="239.20" width="3.2" height="3.2" fill="#ff8414" stroke="none" stroke-width="0"/>
<circle cx="344.70" cy="210.00" r="1.3" fill="#f03c48" stroke="none" stroke-width="0"/>
<rect x="356.20" y="203.70" width="3.2" height="3.2" fill="#ff8414" stroke="none" stroke-width="0"/>
<circle cx="357.80" cy="206.50" r="1.3" fill="#f03c48" stroke="none" stroke-width="0"/>
<circle cx="240.10" cy="241.00" r="2.5" fill="#11c011" stroke="none" stroke-width="0"/>
<circle cx="253.30" cy="205.10" r="2.5" fill="#11c011" stroke="none" stroke-width="0"/>
<circle cx="253.30" cy="242.20" r="2.5" fill="#11c011" stroke="none" stroke-width="0"/>
<circle cx="266.40" cy="206.80" r="2.5" fill="#11c011" stroke="none" stroke-width="0"/>
<circle cx="266.40" cy="242.40" r="2.5" fill="#11c011" stroke="none" stroke-width="0"/>
<circle cx="279.50" cy="207.10" r="2.5" fill="#11c011" stroke="none" stroke-width="0"/>
<circle cx="279.50" cy="241.60" r="2.5" fill="#11c011" stroke="none" stroke-width="0"/>
<circle cx="292.70" cy="205.10" r="2.5" fill="#11c011" stroke="none" stroke-width="0"/>
<circle cx="292.70" cy="241.00" r="2.5" fill="#11c011" stroke="none" stroke-width="0"/>
<circle cx="305.20" cy="209.80" r="2.5" fill="#11c011" stroke="none" stroke-width="0"/>
<circle cx="305.20" cy="242.70" r="2.5" fill="#11c011" stroke="none" stroke-width="0"/>
<circle cx="318.50" cy="206.70" r="2.5" fill="#11c011" stroke="none" stroke-width="0"/>
<circle cx="318.50" cy="242.50" r="2.5" fill="#11c011" stroke="none" stroke-width="0"/>
<circle cx="331.50" cy="206.70" r="2.5" fill="#11c011" stroke="none" stroke-width="0"/>
<circle cx="331.50" cy="243.30" r="2.5" fill="#11c011" stroke="none" stroke-width="0"/>
<circle cx="344.70" cy="206.50" r="2.5" fill="#11c011" stroke="none" stroke-width="0"/>
<circle cx="344.70" cy="241.30" r="2.5" fill="#11c011" stroke="none" stroke-width="0"/>
<circle cx="357.80" cy="208.00" r="2.5" fill="#11c011" stroke="none" stroke-width="0"/>
<line x1="368.50" y1="205.60" x2="378.80" y2="205.60" stroke="#f02020" stroke-width="1.0"/>
<polyline points="371.50,203.00 368.00,205.60 371.50,208.20" fill="none" stroke="#f02020" stroke-width="1.0"/>
<line x1="355.00" y1="241.30" x2="366.00" y2="241.30" stroke="#111" stroke-width="1.0"/>
<polyline points="358.00,238.80 354.50,241.30 358.00,243.80" fill="none" stroke="#111" stroke-width="1.0"/>
<line x1="248.90" y1="174.50" x2="258.20" y2="174.50" stroke="#11c011" stroke-width="1.0" stroke-dasharray="1.6,1.2"/>
<circle cx="253.50" cy="174.50" r="2.5" fill="#11c011" stroke="none" stroke-width="0"/>
<text x="263.20" y="177.10" font-family='"Liberation Serif", serif' font-size="7.45" font-weight="normal" text-anchor="start" fill="#000">PGNSs</text>
<line x1="248.90" y1="184.60" x2="258.20" y2="184.60" stroke="#ff8414" stroke-width="1.0"/>
<rect x="251.90" y="183.00" width="3.2" height="3.2" fill="#ff8414" stroke="none" stroke-width="0"/>
<text x="263.20" y="187.20" font-family='"Liberation Serif", serif' font-size="7.45" font-weight="normal" text-anchor="start" fill="#000">DM1-mPEG-PGNSs</text>
<line x1="248.90" y1="195.10" x2="258.20" y2="195.10" stroke="#f03c48" stroke-width="1.0"/>
<circle cx="253.50" cy="195.10" r="1.4" fill="#f03c48" stroke="none" stroke-width="0"/>
<text x="263.20" y="197.70" font-family='"Liberation Serif", serif' font-size="7.45" font-weight="normal" text-anchor="start" fill="#000">DM1-mPEG/HER-PGNSs</text>
<text x="387.60" y="174.40" font-family='"Liberation Serif", serif' font-size="14.5" font-weight="bold" text-anchor="start" fill="#000">f</text>
<line x1="414.50" y1="188.86" x2="414.50" y2="275.80" stroke="#161616" stroke-width="1.25"/>
<line x1="412.10" y1="268.20" x2="414.50" y2="268.20" stroke="#161616" stroke-width="1.25"/>
<text x="411.50" y="270.30" font-family='"Liberation Serif", serif' font-size="6.3" font-weight="bold" text-anchor="end" fill="#000" stroke="#000" stroke-width="0.18">0</text>
<line x1="412.10" y1="255.06" x2="414.50" y2="255.06" stroke="#161616" stroke-width="1.25"/>
<text x="411.50" y="257.16" font-family='"Liberation Serif", serif' font-size="6.3" font-weight="bold" text-anchor="end" fill="#000" stroke="#000" stroke-width="0.18">20</text>
<line x1="412.10" y1="241.92" x2="414.50" y2="241.92" stroke="#161616" stroke-width="1.25"/>
<text x="411.50" y="244.02" font-family='"Liberation Serif", serif' font-size="6.3" font-weight="bold" text-anchor="end" fill="#000" stroke="#000" stroke-width="0.18">40</text>
<line x1="412.10" y1="228.78" x2="414.50" y2="228.78" stroke="#161616" stroke-width="1.25"/>
<text x="411.50" y="230.88" font-family='"Liberation Serif", serif' font-size="6.3" font-weight="bold" text-anchor="end" fill="#000" stroke="#000" stroke-width="0.18">60</text>
<line x1="412.10" y1="215.64" x2="414.50" y2="215.64" stroke="#161616" stroke-width="1.25"/>
<text x="411.50" y="217.74" font-family='"Liberation Serif", serif' font-size="6.3" font-weight="bold" text-anchor="end" fill="#000" stroke="#000" stroke-width="0.18">80</text>
<line x1="412.10" y1="202.50" x2="414.50" y2="202.50" stroke="#161616" stroke-width="1.25"/>
<text x="411.50" y="204.60" font-family='"Liberation Serif", serif' font-size="6.3" font-weight="bold" text-anchor="end" fill="#000" stroke="#000" stroke-width="0.18">100</text>
<line x1="412.10" y1="189.36" x2="414.50" y2="189.36" stroke="#161616" stroke-width="1.25"/>
<text x="411.50" y="191.46" font-family='"Liberation Serif", serif' font-size="6.3" font-weight="bold" text-anchor="end" fill="#000" stroke="#000" stroke-width="0.18">120</text>
<line x1="414.00" y1="275.30" x2="542.82" y2="275.30" stroke="#161616" stroke-width="1.25"/>
<line x1="414.50" y1="275.30" x2="414.50" y2="277.70" stroke="#161616" stroke-width="1.25"/>
<text x="414.50" y="285.00" font-family='"Liberation Serif", serif' font-size="6.8" font-weight="bold" text-anchor="middle" fill="#000" stroke="#000" stroke-width="0.18">0</text>
<line x1="432.76" y1="275.30" x2="432.76" y2="277.70" stroke="#161616" stroke-width="1.25"/>
<text x="432.76" y="285.00" font-family='"Liberation Serif", serif' font-size="6.8" font-weight="bold" text-anchor="middle" fill="#000" stroke="#000" stroke-width="0.18">2</text>
<line x1="451.02" y1="275.30" x2="451.02" y2="277.70" stroke="#161616" stroke-width="1.25"/>
<text x="451.02" y="285.00" font-family='"Liberation Serif", serif' font-size="6.8" font-weight="bold" text-anchor="middle" fill="#000" stroke="#000" stroke-width="0.18">4</text>
<line x1="469.28" y1="275.30" x2="469.28" y2="277.70" stroke="#161616" stroke-width="1.25"/>
<text x="469.28" y="285.00" font-family='"Liberation Serif", serif' font-size="6.8" font-weight="bold" text-anchor="middle" fill="#000" stroke="#000" stroke-width="0.18">6</text>
<line x1="487.54" y1="275.30" x2="487.54" y2="277.70" stroke="#161616" stroke-width="1.25"/>
<text x="487.54" y="285.00" font-family='"Liberation Serif", serif' font-size="6.8" font-weight="bold" text-anchor="middle" fill="#000" stroke="#000" stroke-width="0.18">8</text>
<line x1="505.80" y1="275.30" x2="505.80" y2="277.70" stroke="#161616" stroke-width="1.25"/>
<text x="505.80" y="285.00" font-family='"Liberation Serif", serif' font-size="6.8" font-weight="bold" text-anchor="middle" fill="#000" stroke="#000" stroke-width="0.18">10</text>
<line x1="524.06" y1="275.30" x2="524.06" y2="277.70" stroke="#161616" stroke-width="1.25"/>
<text x="524.06" y="285.00" font-family='"Liberation Serif", serif' font-size="6.8" font-weight="bold" text-anchor="middle" fill="#000" stroke="#000" stroke-width="0.18">12</text>
<line x1="542.32" y1="275.30" x2="542.32" y2="277.70" stroke="#161616" stroke-width="1.25"/>
<text x="542.32" y="285.00" font-family='"Liberation Serif", serif' font-size="6.8" font-weight="bold" text-anchor="middle" fill="#000" stroke="#000" stroke-width="0.18">14</text>
<text x="478.80" y="293.60" font-family='"Liberation Serif", serif' font-size="7.1" font-weight="bold" text-anchor="middle" fill="#000" stroke="#000" stroke-width="0.18">Time(h)</text>
<text x="398.70" y="232.00" font-family='"Liberation Serif", serif' font-size="7.5" font-weight="bold" text-anchor="middle" fill="#000" transform="rotate(-90 398.7 232.0)" stroke="#000" stroke-width="0.18">Cumulative Release(%)</text>
<polyline points="414.50,268.20 419.06,267.54 423.63,267.41 432.76,267.41 451.02,267.41 469.28,267.41 487.54,267.41 524.06,267.41" fill="none" stroke="#30d0a8" stroke-width="1.1"/>
<circle cx="414.50" cy="268.20" r="2.295" fill="#fff" stroke="#30d0a8" stroke-width="0.9"/>
<circle cx="419.06" cy="267.54" r="2.295" fill="#fff" stroke="#30d0a8" stroke-width="0.9"/>
<circle cx="423.63" cy="267.41" r="2.295" fill="#fff" stroke="#30d0a8" stroke-width="0.9"/>
<circle cx="432.76" cy="267.41" r="2.295" fill="#fff" stroke="#30d0a8" stroke-width="0.9"/>
<circle cx="451.02" cy="267.41" r="2.295" fill="#fff" stroke="#30d0a8" stroke-width="0.9"/>
<circle cx="469.28" cy="267.41" r="2.295" fill="#fff" stroke="#30d0a8" stroke-width="0.9"/>
<circle cx="487.54" cy="267.41" r="2.295" fill="#fff" stroke="#30d0a8" stroke-width="0.9"/>
<circle cx="524.06" cy="267.41" r="2.295" fill="#fff" stroke="#30d0a8" stroke-width="0.9"/>
<polyline points="414.50,268.20 419.06,266.89 423.63,266.49 432.76,266.36 451.02,266.36 469.28,266.29 487.54,266.23 524.06,265.57" fill="none" stroke="#f07cc8" stroke-width="1.1"/>
<circle cx="414.50" cy="268.20" r="2.43" fill="#f07cc8" stroke="none" stroke-width="0"/>
<circle cx="419.06" cy="266.89" r="2.43" fill="#f07cc8" stroke="none" stroke-width="0"/>
<circle cx="423.63" cy="266.49" r="2.43" fill="#f07cc8" stroke="none" stroke-width="0"/>
<circle cx="432.76" cy="266.36" r="2.43" fill="#f07cc8" stroke="none" stroke-width="0"/>
<circle cx="451.02" cy="266.36" r="2.43" fill="#f07cc8" stroke="none" stroke-width="0"/>
<circle cx="469.28" cy="266.29" r="2.43" fill="#f07cc8" stroke="none" stroke-width="0"/>
<circle cx="487.54" cy="266.23" r="2.43" fill="#f07cc8" stroke="none" stroke-width="0"/>
<circle cx="524.06" cy="265.57" r="2.43" fill="#f07cc8" stroke="none" stroke-width="0"/>
<line x1="419.06" y1="246.52" x2="419.06" y2="243.89" stroke="#ffb478" stroke-width="0.9"/>
<line x1="417.46" y1="243.89" x2="420.67" y2="243.89" stroke="#ffb478" stroke-width="0.9"/>
<line x1="419.06" y1="246.52" x2="419.06" y2="249.15" stroke="#ffb478" stroke-width="0.9"/>
<line x1="417.46" y1="249.15" x2="420.67" y2="249.15" stroke="#ffb478" stroke-width="0.9"/>
<line x1="423.63" y1="233.38" x2="423.63" y2="230.09" stroke="#ffb478" stroke-width="0.9"/>
<line x1="422.03" y1="230.09" x2="425.23" y2="230.09" stroke="#ffb478" stroke-width="0.9"/>
<line x1="423.63" y1="233.38" x2="423.63" y2="236.66" stroke="#ffb478" stroke-width="0.9"/>
<line x1="422.03" y1="236.66" x2="425.23" y2="236.66" stroke="#ffb478" stroke-width="0.9"/>
<line x1="432.76" y1="224.84" x2="432.76" y2="222.21" stroke="#ffb478" stroke-width="0.9"/>
<line x1="431.16" y1="222.21" x2="434.36" y2="222.21" stroke="#ffb478" stroke-width="0.9"/>
<line x1="432.76" y1="224.84" x2="432.76" y2="227.47" stroke="#ffb478" stroke-width="0.9"/>
<line x1="431.16" y1="227.47" x2="434.36" y2="227.47" stroke="#ffb478" stroke-width="0.9"/>
<line x1="451.02" y1="218.92" x2="451.02" y2="216.30" stroke="#ffb478" stroke-width="0.9"/>
<line x1="449.42" y1="216.30" x2="452.62" y2="216.30" stroke="#ffb478" stroke-width="0.9"/>
<line x1="451.02" y1="218.92" x2="451.02" y2="221.55" stroke="#ffb478" stroke-width="0.9"/>
<line x1="449.42" y1="221.55" x2="452.62" y2="221.55" stroke="#ffb478" stroke-width="0.9"/>
<line x1="469.28" y1="216.95" x2="469.28" y2="214.33" stroke="#ffb478" stroke-width="0.9"/>
<line x1="467.68" y1="214.33" x2="470.88" y2="214.33" stroke="#ffb478" stroke-width="0.9"/>
<line x1="469.28" y1="216.95" x2="469.28" y2="219.58" stroke="#ffb478" stroke-width="0.9"/>
<line x1="467.68" y1="219.58" x2="470.88" y2="219.58" stroke="#ffb478" stroke-width="0.9"/>
<line x1="487.54" y1="215.90" x2="487.54" y2="213.27" stroke="#ffb478" stroke-width="0.9"/>
<line x1="485.94" y1="213.27" x2="489.14" y2="213.27" stroke="#ffb478" stroke-width="0.9"/>
<line x1="487.54" y1="215.90" x2="487.54" y2="218.53" stroke="#ffb478" stroke-width="0.9"/>
<line x1="485.94" y1="218.53" x2="489.14" y2="218.53" stroke="#ffb478" stroke-width="0.9"/>
<line x1="524.06" y1="214.98" x2="524.06" y2="212.36" stroke="#ffb478" stroke-width="0.9"/>
<line x1="522.46" y1="212.36" x2="525.66" y2="212.36" stroke="#ffb478" stroke-width="0.9"/>
<line x1="524.06" y1="214.98" x2="524.06" y2="217.61" stroke="#ffb478" stroke-width="0.9"/>
<line x1="522.46" y1="217.61" x2="525.66" y2="217.61" stroke="#ffb478" stroke-width="0.9"/>
<polyline points="414.50,268.20 419.06,246.52 423.63,233.38 432.76,224.84 451.02,218.92 469.28,216.95 487.54,215.90 524.06,214.98" fill="none" stroke="#ffb478" stroke-width="1.1"/>
<rect x="412.71" y="266.41" width="3.57" height="3.57" fill="#ffb478" stroke="none" stroke-width="0"/>
<rect x="417.28" y="244.73" width="3.57" height="3.57" fill="#ffb478" stroke="none" stroke-width="0"/>
<rect x="421.84" y="231.59" width="3.57" height="3.57" fill="#ffb478" stroke="none" stroke-width="0"/>
<rect x="430.97" y="223.05" width="3.57" height="3.57" fill="#ffb478" stroke="none" stroke-width="0"/>
<rect x="449.23" y="217.14" width="3.57" height="3.57" fill="#ffb478" stroke="none" stroke-width="0"/>
<rect x="467.49" y="215.17" width="3.57" height="3.57" fill="#ffb478" stroke="none" stroke-width="0"/>
<rect x="485.75" y="214.12" width="3.57" height="3.57" fill="#ffb478" stroke="none" stroke-width="0"/>
<rect x="522.27" y="213.20" width="3.57" height="3.57" fill="#ffb478" stroke="none" stroke-width="0"/>
<line x1="419.06" y1="251.77" x2="419.06" y2="249.80" stroke="#28e028" stroke-width="0.9"/>
<line x1="417.46" y1="249.80" x2="420.67" y2="249.80" stroke="#28e028" stroke-width="0.9"/>
<line x1="419.06" y1="251.77" x2="419.06" y2="253.75" stroke="#28e028" stroke-width="0.9"/>
<line x1="417.46" y1="253.75" x2="420.67" y2="253.75" stroke="#28e028" stroke-width="0.9"/>
<line x1="423.63" y1="241.00" x2="423.63" y2="239.03" stroke="#28e028" stroke-width="0.9"/>
<line x1="422.03" y1="239.03" x2="425.23" y2="239.03" stroke="#28e028" stroke-width="0.9"/>
<line x1="423.63" y1="241.00" x2="423.63" y2="242.97" stroke="#28e028" stroke-width="0.9"/>
<line x1="422.03" y1="242.97" x2="425.23" y2="242.97" stroke="#28e028" stroke-width="0.9"/>
<line x1="432.76" y1="232.92" x2="432.76" y2="230.95" stroke="#28e028" stroke-width="0.9"/>
<line x1="431.16" y1="230.95" x2="434.36" y2="230.95" stroke="#28e028" stroke-width="0.9"/>
<line x1="432.76" y1="232.92" x2="432.76" y2="234.89" stroke="#28e028" stroke-width="0.9"/>
<line x1="431.16" y1="234.89" x2="434.36" y2="234.89" stroke="#28e028" stroke-width="0.9"/>
<line x1="451.02" y1="224.38" x2="451.02" y2="222.41" stroke="#28e028" stroke-width="0.9"/>
<line x1="449.42" y1="222.41" x2="452.62" y2="222.41" stroke="#28e028" stroke-width="0.9"/>
<line x1="451.02" y1="224.38" x2="451.02" y2="226.35" stroke="#28e028" stroke-width="0.9"/>
<line x1="449.42" y1="226.35" x2="452.62" y2="226.35" stroke="#28e028" stroke-width="0.9"/>
<line x1="469.28" y1="222.41" x2="469.28" y2="219.78" stroke="#28e028" stroke-width="0.9"/>
<line x1="467.68" y1="219.78" x2="470.88" y2="219.78" stroke="#28e028" stroke-width="0.9"/>
<line x1="469.28" y1="222.41" x2="469.28" y2="225.04" stroke="#28e028" stroke-width="0.9"/>
<line x1="467.68" y1="225.04" x2="470.88" y2="225.04" stroke="#28e028" stroke-width="0.9"/>
<line x1="487.54" y1="221.68" x2="487.54" y2="220.37" stroke="#28e028" stroke-width="0.9"/>
<line x1="485.94" y1="220.37" x2="489.14" y2="220.37" stroke="#28e028" stroke-width="0.9"/>
<line x1="487.54" y1="221.68" x2="487.54" y2="223.00" stroke="#28e028" stroke-width="0.9"/>
<line x1="485.94" y1="223.00" x2="489.14" y2="223.00" stroke="#28e028" stroke-width="0.9"/>
<line x1="524.06" y1="221.68" x2="524.06" y2="220.37" stroke="#28e028" stroke-width="0.9"/>
<line x1="522.46" y1="220.37" x2="525.66" y2="220.37" stroke="#28e028" stroke-width="0.9"/>
<line x1="524.06" y1="221.68" x2="524.06" y2="223.00" stroke="#28e028" stroke-width="0.9"/>
<line x1="522.46" y1="223.00" x2="525.66" y2="223.00" stroke="#28e028" stroke-width="0.9"/>
<polyline points="414.50,268.20 419.06,251.77 423.63,241.00 432.76,232.92 451.02,224.38 469.28,222.41 487.54,221.68 524.06,221.68" fill="none" stroke="#28e028" stroke-width="1.1"/>
<polygon points="414.50,270.19 416.50,266.70 412.50,266.70" fill="#fff" stroke="#28e028" stroke-width="0.9"/>
<polygon points="419.06,253.77 421.06,250.28 417.07,250.28" fill="#fff" stroke="#28e028" stroke-width="0.9"/>
<polygon points="423.63,243.00 425.62,239.50 421.63,239.50" fill="#fff" stroke="#28e028" stroke-width="0.9"/>
<polygon points="432.76,234.91 434.75,231.42 430.76,231.42" fill="#fff" stroke="#28e028" stroke-width="0.9"/>
<polygon points="451.02,226.37 453.01,222.88 449.02,222.88" fill="#fff" stroke="#28e028" stroke-width="0.9"/>
<polygon points="469.28,224.40 471.27,220.91 467.28,220.91" fill="#fff" stroke="#28e028" stroke-width="0.9"/>
<polygon points="487.54,223.68 489.54,220.19 485.55,220.19" fill="#fff" stroke="#28e028" stroke-width="0.9"/>
<polygon points="524.06,223.68 526.05,220.19 522.06,220.19" fill="#fff" stroke="#28e028" stroke-width="0.9"/>
<line x1="419.06" y1="241.92" x2="419.06" y2="238.63" stroke="#ee2020" stroke-width="0.9"/>
<line x1="417.46" y1="238.63" x2="420.67" y2="238.63" stroke="#ee2020" stroke-width="0.9"/>
<line x1="419.06" y1="241.92" x2="419.06" y2="245.20" stroke="#ee2020" stroke-width="0.9"/>
<line x1="417.46" y1="245.20" x2="420.67" y2="245.20" stroke="#ee2020" stroke-width="0.9"/>
<line x1="423.63" y1="229.44" x2="423.63" y2="225.49" stroke="#ee2020" stroke-width="0.9"/>
<line x1="422.03" y1="225.49" x2="425.23" y2="225.49" stroke="#ee2020" stroke-width="0.9"/>
<line x1="423.63" y1="229.44" x2="423.63" y2="233.38" stroke="#ee2020" stroke-width="0.9"/>
<line x1="422.03" y1="233.38" x2="425.23" y2="233.38" stroke="#ee2020" stroke-width="0.9"/>
<line x1="432.76" y1="217.61" x2="432.76" y2="213.67" stroke="#ee2020" stroke-width="0.9"/>
<line x1="431.16" y1="213.67" x2="434.36" y2="213.67" stroke="#ee2020" stroke-width="0.9"/>
<line x1="432.76" y1="217.61" x2="432.76" y2="221.55" stroke="#ee2020" stroke-width="0.9"/>
<line x1="431.16" y1="221.55" x2="434.36" y2="221.55" stroke="#ee2020" stroke-width="0.9"/>
<line x1="451.02" y1="209.99" x2="451.02" y2="206.38" stroke="#ee2020" stroke-width="0.9"/>
<line x1="449.42" y1="206.38" x2="452.62" y2="206.38" stroke="#ee2020" stroke-width="0.9"/>
<line x1="451.02" y1="209.99" x2="451.02" y2="213.60" stroke="#ee2020" stroke-width="0.9"/>
<line x1="449.42" y1="213.60" x2="452.62" y2="213.60" stroke="#ee2020" stroke-width="0.9"/>
<line x1="469.28" y1="206.18" x2="469.28" y2="199.28" stroke="#ee2020" stroke-width="0.9"/>
<line x1="467.68" y1="199.28" x2="470.88" y2="199.28" stroke="#ee2020" stroke-width="0.9"/>
<line x1="469.28" y1="206.18" x2="469.28" y2="213.08" stroke="#ee2020" stroke-width="0.9"/>
<line x1="467.68" y1="213.08" x2="470.88" y2="213.08" stroke="#ee2020" stroke-width="0.9"/>
<line x1="487.54" y1="206.18" x2="487.54" y2="200.27" stroke="#ee2020" stroke-width="0.9"/>
<line x1="485.94" y1="200.27" x2="489.14" y2="200.27" stroke="#ee2020" stroke-width="0.9"/>
<line x1="487.54" y1="206.18" x2="487.54" y2="212.09" stroke="#ee2020" stroke-width="0.9"/>
<line x1="485.94" y1="212.09" x2="489.14" y2="212.09" stroke="#ee2020" stroke-width="0.9"/>
<line x1="524.06" y1="205.92" x2="524.06" y2="200.00" stroke="#ee2020" stroke-width="0.9"/>
<line x1="522.46" y1="200.00" x2="525.66" y2="200.00" stroke="#ee2020" stroke-width="0.9"/>
<line x1="524.06" y1="205.92" x2="524.06" y2="211.83" stroke="#ee2020" stroke-width="0.9"/>
<line x1="522.46" y1="211.83" x2="525.66" y2="211.83" stroke="#ee2020" stroke-width="0.9"/>
<polyline points="414.50,268.20 419.06,241.92 423.63,229.44 432.76,217.61 451.02,209.99 469.28,206.18 487.54,206.18 524.06,205.92" fill="none" stroke="#ee2020" stroke-width="1.1"/>
<polygon points="414.50,266.10 416.60,269.77 412.40,269.77" fill="#ee2020" stroke="none" stroke-width="0"/>
<polygon points="419.06,239.82 421.17,243.49 416.96,243.49" fill="#ee2020" stroke="none" stroke-width="0"/>
<polygon points="423.63,227.34 425.73,231.01 421.53,231.01" fill="#ee2020" stroke="none" stroke-width="0"/>
<polygon points="432.76,215.51 434.86,219.19 430.66,219.19" fill="#ee2020" stroke="none" stroke-width="0"/>
<polygon points="451.02,207.89 453.12,211.56 448.92,211.56" fill="#ee2020" stroke="none" stroke-width="0"/>
<polygon points="469.28,204.08 471.38,207.75 467.18,207.75" fill="#ee2020" stroke="none" stroke-width="0"/>
<polygon points="487.54,204.08 489.64,207.75 485.44,207.75" fill="#ee2020" stroke="none" stroke-width="0"/>
<polygon points="524.06,203.82 526.16,207.49 521.96,207.49" fill="#ee2020" stroke="none" stroke-width="0"/>
<line x1="419.06" y1="227.47" x2="419.06" y2="222.21" stroke="#1e8a28" stroke-width="0.9"/>
<line x1="417.46" y1="222.21" x2="420.67" y2="222.21" stroke="#1e8a28" stroke-width="0.9"/>
<line x1="419.06" y1="227.47" x2="419.06" y2="232.72" stroke="#1e8a28" stroke-width="0.9"/>
<line x1="417.46" y1="232.72" x2="420.67" y2="232.72" stroke="#1e8a28" stroke-width="0.9"/>
<line x1="423.63" y1="225.30" x2="423.63" y2="222.01" stroke="#1e8a28" stroke-width="0.9"/>
<line x1="422.03" y1="222.01" x2="425.23" y2="222.01" stroke="#1e8a28" stroke-width="0.9"/>
<line x1="423.63" y1="225.30" x2="423.63" y2="228.58" stroke="#1e8a28" stroke-width="0.9"/>
<line x1="422.03" y1="228.58" x2="425.23" y2="228.58" stroke="#1e8a28" stroke-width="0.9"/>
<line x1="432.76" y1="211.70" x2="432.76" y2="207.76" stroke="#1e8a28" stroke-width="0.9"/>
<line x1="431.16" y1="207.76" x2="434.36" y2="207.76" stroke="#1e8a28" stroke-width="0.9"/>
<line x1="432.76" y1="211.70" x2="432.76" y2="215.64" stroke="#1e8a28" stroke-width="0.9"/>
<line x1="431.16" y1="215.64" x2="434.36" y2="215.64" stroke="#1e8a28" stroke-width="0.9"/>
<line x1="451.02" y1="210.38" x2="451.02" y2="208.41" stroke="#1e8a28" stroke-width="0.9"/>
<line x1="449.42" y1="208.41" x2="452.62" y2="208.41" stroke="#1e8a28" stroke-width="0.9"/>
<line x1="451.02" y1="210.38" x2="451.02" y2="212.35" stroke="#1e8a28" stroke-width="0.9"/>
<line x1="449.42" y1="212.35" x2="452.62" y2="212.35" stroke="#1e8a28" stroke-width="0.9"/>
<line x1="469.28" y1="205.92" x2="469.28" y2="203.29" stroke="#1e8a28" stroke-width="0.9"/>
<line x1="467.68" y1="203.29" x2="470.88" y2="203.29" stroke="#1e8a28" stroke-width="0.9"/>
<line x1="469.28" y1="205.92" x2="469.28" y2="208.54" stroke="#1e8a28" stroke-width="0.9"/>
<line x1="467.68" y1="208.54" x2="470.88" y2="208.54" stroke="#1e8a28" stroke-width="0.9"/>
<line x1="487.54" y1="205.13" x2="487.54" y2="203.16" stroke="#1e8a28" stroke-width="0.9"/>
<line x1="485.94" y1="203.16" x2="489.14" y2="203.16" stroke="#1e8a28" stroke-width="0.9"/>
<line x1="487.54" y1="205.13" x2="487.54" y2="207.10" stroke="#1e8a28" stroke-width="0.9"/>
<line x1="485.94" y1="207.10" x2="489.14" y2="207.10" stroke="#1e8a28" stroke-width="0.9"/>
<line x1="524.06" y1="202.50" x2="524.06" y2="200.53" stroke="#1e8a28" stroke-width="0.9"/>
<line x1="522.46" y1="200.53" x2="525.66" y2="200.53" stroke="#1e8a28" stroke-width="0.9"/>
<line x1="524.06" y1="202.50" x2="524.06" y2="204.47" stroke="#1e8a28" stroke-width="0.9"/>
<line x1="522.46" y1="204.47" x2="525.66" y2="204.47" stroke="#1e8a28" stroke-width="0.9"/>
<polyline points="414.50,268.20 419.06,227.47 423.63,225.30 432.76,211.70 451.02,210.38 469.28,205.92 487.54,205.13 524.06,202.50" fill="none" stroke="#1e8a28" stroke-width="1.1"/>
<polygon points="414.50,266.20 416.50,269.70 412.50,269.70" fill="#fff" stroke="#1e8a28" stroke-width="0.9"/>
<polygon points="419.06,225.47 421.06,228.96 417.07,228.96" fill="#fff" stroke="#1e8a28" stroke-width="0.9"/>
<polygon points="423.63,223.30 425.62,226.79 421.63,226.79" fill="#fff" stroke="#1e8a28" stroke-width="0.9"/>
<polygon points="432.76,209.70 434.75,213.19 430.76,213.19" fill="#fff" stroke="#1e8a28" stroke-width="0.9"/>
<polygon points="451.02,208.39 453.01,211.88 449.02,211.88" fill="#fff" stroke="#1e8a28" stroke-width="0.9"/>
<polygon points="469.28,203.92 471.27,207.41 467.28,207.41" fill="#fff" stroke="#1e8a28" stroke-width="0.9"/>
<polygon points="487.54,203.13 489.54,206.62 485.55,206.62" fill="#fff" stroke="#1e8a28" stroke-width="0.9"/>
<polygon points="524.06,200.50 526.05,204.00 522.06,204.00" fill="#fff" stroke="#1e8a28" stroke-width="0.9"/>
<line x1="419.06" y1="232.06" x2="419.06" y2="229.44" stroke="#222" stroke-width="0.9"/>
<line x1="417.46" y1="229.44" x2="420.67" y2="229.44" stroke="#222" stroke-width="0.9"/>
<line x1="419.06" y1="232.06" x2="419.06" y2="234.69" stroke="#222" stroke-width="0.9"/>
<line x1="417.46" y1="234.69" x2="420.67" y2="234.69" stroke="#222" stroke-width="0.9"/>
<line x1="423.63" y1="225.69" x2="423.63" y2="223.06" stroke="#222" stroke-width="0.9"/>
<line x1="422.03" y1="223.06" x2="425.23" y2="223.06" stroke="#222" stroke-width="0.9"/>
<line x1="423.63" y1="225.69" x2="423.63" y2="228.32" stroke="#222" stroke-width="0.9"/>
<line x1="422.03" y1="228.32" x2="425.23" y2="228.32" stroke="#222" stroke-width="0.9"/>
<line x1="432.76" y1="216.30" x2="432.76" y2="213.67" stroke="#222" stroke-width="0.9"/>
<line x1="431.16" y1="213.67" x2="434.36" y2="213.67" stroke="#222" stroke-width="0.9"/>
<line x1="432.76" y1="216.30" x2="432.76" y2="218.92" stroke="#222" stroke-width="0.9"/>
<line x1="431.16" y1="218.92" x2="434.36" y2="218.92" stroke="#222" stroke-width="0.9"/>
<line x1="451.02" y1="210.91" x2="451.02" y2="208.94" stroke="#222" stroke-width="0.9"/>
<line x1="449.42" y1="208.94" x2="452.62" y2="208.94" stroke="#222" stroke-width="0.9"/>
<line x1="451.02" y1="210.91" x2="451.02" y2="212.88" stroke="#222" stroke-width="0.9"/>
<line x1="449.42" y1="212.88" x2="452.62" y2="212.88" stroke="#222" stroke-width="0.9"/>
<line x1="469.28" y1="208.22" x2="469.28" y2="206.24" stroke="#222" stroke-width="0.9"/>
<line x1="467.68" y1="206.24" x2="470.88" y2="206.24" stroke="#222" stroke-width="0.9"/>
<line x1="469.28" y1="208.22" x2="469.28" y2="210.19" stroke="#222" stroke-width="0.9"/>
<line x1="467.68" y1="210.19" x2="470.88" y2="210.19" stroke="#222" stroke-width="0.9"/>
<line x1="487.54" y1="207.30" x2="487.54" y2="205.33" stroke="#222" stroke-width="0.9"/>
<line x1="485.94" y1="205.33" x2="489.14" y2="205.33" stroke="#222" stroke-width="0.9"/>
<line x1="487.54" y1="207.30" x2="487.54" y2="209.27" stroke="#222" stroke-width="0.9"/>
<line x1="485.94" y1="209.27" x2="489.14" y2="209.27" stroke="#222" stroke-width="0.9"/>
<line x1="524.06" y1="204.80" x2="524.06" y2="202.83" stroke="#222" stroke-width="0.9"/>
<line x1="522.46" y1="202.83" x2="525.66" y2="202.83" stroke="#222" stroke-width="0.9"/>
<line x1="524.06" y1="204.80" x2="524.06" y2="206.77" stroke="#222" stroke-width="0.9"/>
<line x1="522.46" y1="206.77" x2="525.66" y2="206.77" stroke="#222" stroke-width="0.9"/>
<polyline points="414.50,268.20 419.06,232.06 423.63,225.69 432.76,216.30 451.02,210.91 469.28,208.22 487.54,207.30 524.06,204.80" fill="none" stroke="#222" stroke-width="1.1" stroke-dasharray="3,1.2,1,1.2"/>
<circle cx="414.50" cy="268.20" r="1.8900000000000001" fill="#222" stroke="none" stroke-width="0"/>
<circle cx="419.06" cy="232.06" r="1.8900000000000001" fill="#222" stroke="none" stroke-width="0"/>
<circle cx="423.63" cy="225.69" r="1.8900000000000001" fill="#222" stroke="none" stroke-width="0"/>
<circle cx="432.76" cy="216.30" r="1.8900000000000001" fill="#222" stroke="none" stroke-width="0"/>
<circle cx="451.02" cy="210.91" r="1.8900000000000001" fill="#222" stroke="none" stroke-width="0"/>
<circle cx="469.28" cy="208.22" r="1.8900000000000001" fill="#222" stroke="none" stroke-width="0"/>
<circle cx="487.54" cy="207.30" r="1.8900000000000001" fill="#222" stroke="none" stroke-width="0"/>
<circle cx="524.06" cy="204.80" r="1.8900000000000001" fill="#222" stroke="none" stroke-width="0"/>
<line x1="533.90" y1="191.70" x2="543.20" y2="191.70" stroke="#222" stroke-width="1.0" stroke-dasharray="3,1.2,1,1.2"/>
<circle cx="538.50" cy="191.70" r="2.3400000000000003" fill="#222" stroke="none" stroke-width="0"/>
<text x="548.60" y="194.20" font-family='"Liberation Serif", serif' font-size="7.2" font-weight="normal" text-anchor="start" fill="#000">free DM1</text>
<line x1="533.90" y1="202.70" x2="543.20" y2="202.70" stroke="#f07cc8" stroke-width="1.0"/>
<circle cx="538.50" cy="202.70" r="2.3400000000000003" fill="#f07cc8" stroke="none" stroke-width="0"/>
<text x="548.60" y="205.20" font-family='"Liberation Serif", serif' font-size="7.2" font-weight="normal" text-anchor="start" fill="#000">DM1-mPEG-PGNSs</text>
<line x1="533.90" y1="213.40" x2="543.20" y2="213.40" stroke="#ffb478" stroke-width="1.0"/>
<rect x="536.29" y="211.19" width="4.42" height="4.42" fill="#ffb478" stroke="none" stroke-width="0"/>
<text x="548.60" y="215.90" font-family='"Liberation Serif", serif' font-size="7.2" font-weight="normal" text-anchor="start" fill="#000">DM1-mPEG-PGNSs,w/GSH</text>
<line x1="533.90" y1="223.70" x2="543.20" y2="223.70" stroke="#ee2020" stroke-width="1.0"/>
<polygon points="538.50,221.10 541.10,225.65 535.90,225.65" fill="#ee2020" stroke="none" stroke-width="0"/>
<text x="548.60" y="226.20" font-family='"Liberation Serif", serif' font-size="7.2" font-weight="normal" text-anchor="start" fill="#000">DM1-mPEG-PGNSs,w/GSH+NIR</text>
<line x1="533.90" y1="234.90" x2="543.20" y2="234.90" stroke="#30d0a8" stroke-width="1.0"/>
<circle cx="538.50" cy="234.90" r="2.21" fill="#fff" stroke="#30d0a8" stroke-width="0.9"/>
<text x="548.60" y="237.40" font-family='"Liberation Serif", serif' font-size="7.2" font-weight="normal" text-anchor="start" fill="#000">DM1-mPEG/HER-PGNSs</text>
<line x1="533.90" y1="245.40" x2="543.20" y2="245.40" stroke="#28e028" stroke-width="1.0"/>
<polygon points="538.50,247.87 540.97,243.55 536.03,243.55" fill="#fff" stroke="#28e028" stroke-width="0.9"/>
<text x="548.60" y="247.90" font-family='"Liberation Serif", serif' font-size="7.2" font-weight="normal" text-anchor="start" fill="#000">DM1-mPEG/HER-PGNSs,w/GSH</text>
<line x1="533.90" y1="255.90" x2="543.20" y2="255.90" stroke="#1e8a28" stroke-width="1.0"/>
<polygon points="538.50,253.43 540.97,257.75 536.03,257.75" fill="#fff" stroke="#1e8a28" stroke-width="0.9"/>
<text x="548.60" y="258.40" font-family='"Liberation Serif", serif' font-size="7.2" font-weight="normal" text-anchor="start" fill="#000">DM1-mPEG/HER-PGNSs,w/GSH+NIR</text>
<polyline points="636.70,199.90 641.10,199.90 641.10,214.30 636.70,214.30" fill="none" stroke="#333" stroke-width="0.8"/>
<text x="643.00" y="206.90" font-family='"Liberation Serif", serif' font-size="6.0" font-weight="bold" text-anchor="middle" fill="#222" transform="rotate(90 643.0 206.9)">**</text>
<polyline points="650.00,200.60 657.00,200.60 657.00,223.70 650.00,223.70" fill="none" stroke="#333" stroke-width="0.8"/>
<text x="659.20" y="211.50" font-family='"Liberation Serif", serif' font-size="6.0" font-weight="bold" text-anchor="middle" fill="#222" transform="rotate(90 659.2 211.5)">**</text>
<polyline points="661.50,234.20 666.30,234.20 666.30,244.20 661.50,244.20" fill="none" stroke="#333" stroke-width="0.8"/>
<text x="668.20" y="239.60" font-family='"Liberation Serif", serif' font-size="6.0" font-weight="bold" text-anchor="middle" fill="#222" transform="rotate(90 668.2 239.6)">**</text>
<polyline points="672.50,234.20 679.60,234.20 679.60,256.40 672.50,256.40" fill="none" stroke="#333" stroke-width="0.8"/>
<text x="681.80" y="244.50" font-family='"Liberation Serif", serif' font-size="6.0" font-weight="bold" text-anchor="middle" fill="#222" transform="rotate(90 681.8 244.5)">**</text>
<text x="14.40" y="312.60" font-family='"Liberation Serif", serif' font-size="14.5" font-weight="bold" text-anchor="start" fill="#000">g</text>
<line x1="36.50" y1="332.70" x2="36.50" y2="416.70" stroke="#161616" stroke-width="1.25"/>
<line x1="34.10" y1="416.20" x2="36.50" y2="416.20" stroke="#161616" stroke-width="1.25"/>
<text x="33.50" y="418.40" font-family='"Liberation Serif", serif' font-size="6.6" font-weight="bold" text-anchor="end" fill="#000" stroke="#000" stroke-width="0.18">0</text>
<line x1="34.10" y1="399.60" x2="36.50" y2="399.60" stroke="#161616" stroke-width="1.25"/>
<text x="33.50" y="401.80" font-family='"Liberation Serif", serif' font-size="6.6" font-weight="bold" text-anchor="end" fill="#000" stroke="#000" stroke-width="0.18">30</text>
<line x1="34.10" y1="383.00" x2="36.50" y2="383.00" stroke="#161616" stroke-width="1.25"/>
<text x="33.50" y="385.20" font-family='"Liberation Serif", serif' font-size="6.6" font-weight="bold" text-anchor="end" fill="#000" stroke="#000" stroke-width="0.18">60</text>
<line x1="34.10" y1="366.40" x2="36.50" y2="366.40" stroke="#161616" stroke-width="1.25"/>
<text x="33.50" y="368.60" font-family='"Liberation Serif", serif' font-size="6.6" font-weight="bold" text-anchor="end" fill="#000" stroke="#000" stroke-width="0.18">90</text>
<line x1="34.10" y1="349.80" x2="36.50" y2="349.80" stroke="#161616" stroke-width="1.25"/>
<text x="33.50" y="352.00" font-family='"Liberation Serif", serif' font-size="6.6" font-weight="bold" text-anchor="end" fill="#000" stroke="#000" stroke-width="0.18">120</text>
<line x1="34.10" y1="333.20" x2="36.50" y2="333.20" stroke="#161616" stroke-width="1.25"/>
<text x="33.50" y="335.40" font-family='"Liberation Serif", serif' font-size="6.6" font-weight="bold" text-anchor="end" fill="#000" stroke="#000" stroke-width="0.18">150</text>
<line x1="36.00" y1="416.20" x2="162.80" y2="416.20" stroke="#161616" stroke-width="1.25"/>
<line x1="49.50" y1="416.20" x2="49.50" y2="418.60" stroke="#161616" stroke-width="1.25"/>
<text x="49.50" y="425.00" font-family='"Liberation Serif", serif' font-size="6.8" font-weight="bold" text-anchor="middle" fill="#000" stroke="#000" stroke-width="0.18">10</text>
<line x1="74.50" y1="416.20" x2="74.50" y2="418.60" stroke="#161616" stroke-width="1.25"/>
<text x="74.50" y="425.00" font-family='"Liberation Serif", serif' font-size="6.8" font-weight="bold" text-anchor="middle" fill="#000" stroke="#000" stroke-width="0.18">25</text>
<line x1="99.50" y1="416.20" x2="99.50" y2="418.60" stroke="#161616" stroke-width="1.25"/>
<text x="99.50" y="425.00" font-family='"Liberation Serif", serif' font-size="6.8" font-weight="bold" text-anchor="middle" fill="#000" stroke="#000" stroke-width="0.18">50</text>
<line x1="124.50" y1="416.20" x2="124.50" y2="418.60" stroke="#161616" stroke-width="1.25"/>
<text x="124.50" y="425.00" font-family='"Liberation Serif", serif' font-size="6.8" font-weight="bold" text-anchor="middle" fill="#000" stroke="#000" stroke-width="0.18">100</text>
<line x1="149.50" y1="416.20" x2="149.50" y2="418.60" stroke="#161616" stroke-width="1.25"/>
<text x="149.50" y="425.00" font-family='"Liberation Serif", serif' font-size="6.8" font-weight="bold" text-anchor="middle" fill="#000" stroke="#000" stroke-width="0.18">200</text>
<text x="99.80" y="436.60" font-family='"Liberation Serif", serif' font-size="7.4" font-weight="bold" text-anchor="middle" fill="#000" stroke="#000" stroke-width="0.18">Concentration(μg/ml)</text>
<text x="21.40" y="374.40" font-family='"Liberation Serif", serif' font-size="6.9" font-weight="normal" text-anchor="middle" fill="#000" transform="rotate(-90 21.4 374.4)">C.V.(%)</text>
<line x1="74.50" y1="352.79" x2="74.50" y2="358.32" stroke="#ee2020" stroke-width="0.9"/>
<line x1="73.10" y1="358.32" x2="75.90" y2="358.32" stroke="#ee2020" stroke-width="0.9"/>
<line x1="99.50" y1="358.66" x2="99.50" y2="365.30" stroke="#ee2020" stroke-width="0.9"/>
<line x1="98.10" y1="365.30" x2="100.90" y2="365.30" stroke="#ee2020" stroke-width="0.9"/>
<line x1="124.50" y1="357.55" x2="124.50" y2="367.23" stroke="#ee2020" stroke-width="0.9"/>
<line x1="123.10" y1="367.23" x2="125.90" y2="367.23" stroke="#ee2020" stroke-width="0.9"/>
<line x1="149.50" y1="362.09" x2="149.50" y2="367.23" stroke="#ee2020" stroke-width="0.9"/>
<line x1="148.10" y1="367.23" x2="150.90" y2="367.23" stroke="#ee2020" stroke-width="0.9"/>
<polyline points="49.50,355.50 74.50,352.79 99.50,358.66 124.50,357.55 149.50,362.09" fill="none" stroke="#ee2020" stroke-width="1.1"/>
<circle cx="49.50" cy="355.50" r="2.0" fill="#ee2020" stroke="none" stroke-width="0"/>
<circle cx="74.50" cy="352.79" r="2.0" fill="#ee2020" stroke="none" stroke-width="0"/>
<circle cx="99.50" cy="358.66" r="2.0" fill="#ee2020" stroke="none" stroke-width="0"/>
<circle cx="124.50" cy="357.55" r="2.0" fill="#ee2020" stroke="none" stroke-width="0"/>
<circle cx="149.50" cy="362.09" r="2.0" fill="#ee2020" stroke="none" stroke-width="0"/>
<line x1="49.50" y1="363.64" x2="49.50" y2="361.98" stroke="#ff8a14" stroke-width="0.9"/>
<line x1="48.10" y1="361.98" x2="50.90" y2="361.98" stroke="#ff8a14" stroke-width="0.9"/>
<line x1="49.50" y1="363.64" x2="49.50" y2="365.30" stroke="#ff8a14" stroke-width="0.9"/>
<line x1="48.10" y1="365.30" x2="50.90" y2="365.30" stroke="#ff8a14" stroke-width="0.9"/>
<line x1="74.50" y1="373.60" x2="74.50" y2="371.38" stroke="#ff8a14" stroke-width="0.9"/>
<line x1="73.10" y1="371.38" x2="75.90" y2="371.38" stroke="#ff8a14" stroke-width="0.9"/>
<line x1="74.50" y1="373.60" x2="74.50" y2="375.81" stroke="#ff8a14" stroke-width="0.9"/>
<line x1="73.10" y1="375.81" x2="75.90" y2="375.81" stroke="#ff8a14" stroke-width="0.9"/>
<line x1="99.50" y1="376.36" x2="99.50" y2="374.15" stroke="#ff8a14" stroke-width="0.9"/>
<line x1="98.10" y1="374.15" x2="100.90" y2="374.15" stroke="#ff8a14" stroke-width="0.9"/>
<line x1="99.50" y1="376.36" x2="99.50" y2="379.68" stroke="#ff8a14" stroke-width="0.9"/>
<line x1="98.10" y1="379.68" x2="100.90" y2="379.68" stroke="#ff8a14" stroke-width="0.9"/>
<line x1="124.50" y1="380.12" x2="124.50" y2="377.91" stroke="#ff8a14" stroke-width="0.9"/>
<line x1="123.10" y1="377.91" x2="125.90" y2="377.91" stroke="#ff8a14" stroke-width="0.9"/>
<line x1="124.50" y1="380.12" x2="124.50" y2="383.44" stroke="#ff8a14" stroke-width="0.9"/>
<line x1="123.10" y1="383.44" x2="125.90" y2="383.44" stroke="#ff8a14" stroke-width="0.9"/>
<line x1="149.50" y1="390.47" x2="149.50" y2="388.81" stroke="#ff8a14" stroke-width="0.9"/>
<line x1="148.10" y1="388.81" x2="150.90" y2="388.81" stroke="#ff8a14" stroke-width="0.9"/>
<line x1="149.50" y1="390.47" x2="149.50" y2="392.13" stroke="#ff8a14" stroke-width="0.9"/>
<line x1="148.10" y1="392.13" x2="150.90" y2="392.13" stroke="#ff8a14" stroke-width="0.9"/>
<polyline points="49.50,363.64 74.50,373.60 99.50,376.36 124.50,380.12 149.50,390.47" fill="none" stroke="#ff8a14" stroke-width="1.1"/>
<rect x="47.70" y="361.84" width="3.6" height="3.6" fill="#ff8a14" stroke="none" stroke-width="0"/>
<rect x="72.70" y="371.80" width="3.6" height="3.6" fill="#ff8a14" stroke="none" stroke-width="0"/>
<rect x="97.70" y="374.56" width="3.6" height="3.6" fill="#ff8a14" stroke="none" stroke-width="0"/>
<rect x="122.70" y="378.32" width="3.6" height="3.6" fill="#ff8a14" stroke="none" stroke-width="0"/>
<rect x="147.70" y="388.67" width="3.6" height="3.6" fill="#ff8a14" stroke="none" stroke-width="0"/>
<line x1="49.50" y1="367.51" x2="49.50" y2="371.38" stroke="#22c022" stroke-width="0.9"/>
<line x1="48.10" y1="371.38" x2="50.90" y2="371.38" stroke="#22c022" stroke-width="0.9"/>
<line x1="74.50" y1="380.24" x2="74.50" y2="383.00" stroke="#22c022" stroke-width="0.9"/>
<line x1="73.10" y1="383.00" x2="75.90" y2="383.00" stroke="#22c022" stroke-width="0.9"/>
<line x1="99.50" y1="386.60" x2="99.50" y2="387.71" stroke="#22c022" stroke-width="0.9"/>
<line x1="98.10" y1="387.71" x2="100.90" y2="387.71" stroke="#22c022" stroke-width="0.9"/>
<line x1="124.50" y1="388.70" x2="124.50" y2="389.81" stroke="#22c022" stroke-width="0.9"/>
<line x1="123.10" y1="389.81" x2="125.90" y2="389.81" stroke="#22c022" stroke-width="0.9"/>
<line x1="149.50" y1="396.28" x2="149.50" y2="398.49" stroke="#22c022" stroke-width="0.9"/>
<line x1="148.10" y1="398.49" x2="150.90" y2="398.49" stroke="#22c022" stroke-width="0.9"/>
<polyline points="49.50,367.51 74.50,380.24 99.50,386.60 124.50,388.70 149.50,396.28" fill="none" stroke="#22c022" stroke-width="1.1"/>
<polygon points="49.50,365.41 51.60,369.08 47.40,369.08" fill="#22c022" stroke="none" stroke-width="0"/>
<polygon points="74.50,378.14 76.60,381.81 72.40,381.81" fill="#22c022" stroke="none" stroke-width="0"/>
<polygon points="99.50,384.50 101.60,388.17 97.40,388.17" fill="#22c022" stroke="none" stroke-width="0"/>
<polygon points="124.50,386.60 126.60,390.28 122.40,390.28" fill="#22c022" stroke="none" stroke-width="0"/>
<polygon points="149.50,394.18 151.60,397.86 147.40,397.86" fill="#22c022" stroke="none" stroke-width="0"/>
<line x1="49.50" y1="375.26" x2="49.50" y2="370.28" stroke="#1a1ae8" stroke-width="0.9"/>
<line x1="48.10" y1="370.28" x2="50.90" y2="370.28" stroke="#1a1ae8" stroke-width="0.9"/>
<line x1="49.50" y1="375.26" x2="49.50" y2="380.24" stroke="#1a1ae8" stroke-width="0.9"/>
<line x1="48.10" y1="380.24" x2="50.90" y2="380.24" stroke="#1a1ae8" stroke-width="0.9"/>
<line x1="124.50" y1="396.83" x2="124.50" y2="395.17" stroke="#1a1ae8" stroke-width="0.9"/>
<line x1="123.10" y1="395.17" x2="125.90" y2="395.17" stroke="#1a1ae8" stroke-width="0.9"/>
<line x1="124.50" y1="396.83" x2="124.50" y2="398.49" stroke="#1a1ae8" stroke-width="0.9"/>
<line x1="123.10" y1="398.49" x2="125.90" y2="398.49" stroke="#1a1ae8" stroke-width="0.9"/>
<polyline points="49.50,375.26 74.50,386.60 99.50,392.02 124.50,396.83 149.50,403.47" fill="none" stroke="#1a1ae8" stroke-width="1.1"/>
<polygon points="49.50,377.36 51.60,373.68 47.40,373.68" fill="#1a1ae8" stroke="none" stroke-width="0"/>
<polygon points="74.50,388.70 76.60,385.02 72.40,385.02" fill="#1a1ae8" stroke="none" stroke-width="0"/>
<polygon points="99.50,394.12 101.60,390.45 97.40,390.45" fill="#1a1ae8" stroke="none" stroke-width="0"/>
<polygon points="124.50,398.93 126.60,395.26 122.40,395.26" fill="#1a1ae8" stroke="none" stroke-width="0"/>
<polygon points="149.50,405.57 151.60,401.90 147.40,401.90" fill="#1a1ae8" stroke="none" stroke-width="0"/>
<line x1="39.10" y1="315.50" x2="48.10" y2="315.50" stroke="#ee2020" stroke-width="1.1"/>
<circle cx="43.60" cy="315.50" r="1.9" fill="#ee2020" stroke="none" stroke-width="0"/>
<text x="53.10" y="318.00" font-family='"Liberation Serif", serif' font-size="7.1" font-weight="normal" text-anchor="start" fill="#000">PGNSs</text>
<line x1="39.10" y1="324.50" x2="48.10" y2="324.50" stroke="#ff8a14" stroke-width="1.1"/>
<rect x="41.90" y="322.80" width="3.4" height="3.4" fill="#ff8a14" stroke="none" stroke-width="0"/>
<text x="53.10" y="327.00" font-family='"Liberation Serif", serif' font-size="7.1" font-weight="normal" text-anchor="start" fill="#000">DM-mPEG-PGNSs</text>
<line x1="39.10" y1="334.10" x2="48.10" y2="334.10" stroke="#22c022" stroke-width="1.1"/>
<polygon points="43.60,332.10 45.60,335.60 41.60,335.60" fill="#22c022" stroke="none" stroke-width="0"/>
<text x="53.10" y="336.60" font-family='"Liberation Serif", serif' font-size="7.1" font-weight="normal" text-anchor="start" fill="#000">DM1-mPEG/HER-PGNSs</text>
<line x1="39.10" y1="343.60" x2="48.10" y2="343.60" stroke="#1a1ae8" stroke-width="1.1"/>
<polygon points="43.60,345.60 45.60,342.10 41.60,342.10" fill="#1a1ae8" stroke="none" stroke-width="0"/>
<text x="53.10" y="346.10" font-family='"Liberation Serif", serif' font-size="7.1" font-weight="normal" text-anchor="start" fill="#000">DM1-mPEG/HER-PGNSs+NIR</text>
<polyline points="153.90,390.30 157.10,390.30 157.10,396.10 153.90,396.10" fill="none" stroke="#333" stroke-width="0.8"/>
<text x="157.60" y="393.60" font-family='"Liberation Serif", serif' font-size="6.4" font-weight="bold" text-anchor="middle" fill="#222" transform="rotate(90 157.6 393.6)">**</text>
<polyline points="159.80,397.50 162.20,397.50 162.20,405.60 159.80,405.60" fill="none" stroke="#333" stroke-width="0.8"/>
<text x="164.40" y="402.00" font-family='"Liberation Serif", serif' font-size="6.4" font-weight="bold" text-anchor="middle" fill="#222" transform="rotate(90 164.4 402.0)">***</text>
<polyline points="170.10,390.30 173.70,390.30 173.70,406.00 170.10,406.00" fill="none" stroke="#333" stroke-width="0.8"/>
<text x="175.00" y="398.40" font-family='"Liberation Serif", serif' font-size="6.4" font-weight="bold" text-anchor="middle" fill="#222" transform="rotate(90 175.0 398.4)">***</text>
<text x="223.00" y="313.20" font-family='"Liberation Serif", serif' font-size="14.5" font-weight="bold" text-anchor="start" fill="#000">h</text>
<line x1="249.60" y1="315.90" x2="249.60" y2="397.20" stroke="#161616" stroke-width="1.25"/>
<line x1="247.20" y1="396.70" x2="249.60" y2="396.70" stroke="#161616" stroke-width="1.25"/>
<text x="246.60" y="398.90" font-family='"Liberation Serif", serif' font-size="6.6" font-weight="bold" text-anchor="end" fill="#000" stroke="#000" stroke-width="0.18">0</text>
<line x1="247.20" y1="376.62" x2="249.60" y2="376.62" stroke="#161616" stroke-width="1.25"/>
<text x="246.60" y="378.82" font-family='"Liberation Serif", serif' font-size="6.6" font-weight="bold" text-anchor="end" fill="#000" stroke="#000" stroke-width="0.18">10</text>
<line x1="247.20" y1="356.55" x2="249.60" y2="356.55" stroke="#161616" stroke-width="1.25"/>
<text x="246.60" y="358.75" font-family='"Liberation Serif", serif' font-size="6.6" font-weight="bold" text-anchor="end" fill="#000" stroke="#000" stroke-width="0.18">20</text>
<line x1="247.20" y1="336.48" x2="249.60" y2="336.48" stroke="#161616" stroke-width="1.25"/>
<text x="246.60" y="338.68" font-family='"Liberation Serif", serif' font-size="6.6" font-weight="bold" text-anchor="end" fill="#000" stroke="#000" stroke-width="0.18">30</text>
<line x1="247.20" y1="316.40" x2="249.60" y2="316.40" stroke="#161616" stroke-width="1.25"/>
<text x="246.60" y="318.60" font-family='"Liberation Serif", serif' font-size="6.6" font-weight="bold" text-anchor="end" fill="#000" stroke="#000" stroke-width="0.18">40</text>
<line x1="249.10" y1="396.70" x2="368.50" y2="396.70" stroke="#161616" stroke-width="1.1"/>
<text x="235.10" y="356.80" font-family='"Liberation Serif", serif' font-size="7.0" font-weight="bold" text-anchor="middle" fill="#000" transform="rotate(-90 235.1 356.8)" stroke="#000" stroke-width="0.18">Apoptosis Cell Counts(%)</text>
<line x1="256.70" y1="393.69" x2="256.70" y2="393.09" stroke="#111" stroke-width="0.8"/>
<line x1="255.30" y1="393.09" x2="258.10" y2="393.09" stroke="#111" stroke-width="0.8"/>
<rect x="253.40" y="393.69" width="6.60" height="3.01" fill="#1ec01e" stroke="#111" stroke-width="0.8"/>
<line x1="266.05" y1="393.29" x2="266.05" y2="390.88" stroke="#111" stroke-width="0.8"/>
<line x1="264.65" y1="390.88" x2="267.45" y2="390.88" stroke="#111" stroke-width="0.8"/>
<rect x="263.20" y="393.29" width="5.70" height="3.41" fill="#1414ee" stroke="#111" stroke-width="0.8"/>
<line x1="261.35" y1="396.70" x2="261.35" y2="398.90" stroke="#161616" stroke-width="1.0"/>
<text x="263.35" y="403.70" font-family='"Liberation Serif", serif' font-size="5.25" font-weight="normal" text-anchor="end" fill="#000" transform="rotate(-38 263.35 403.7)">Control</text>
<line x1="280.65" y1="373.61" x2="280.65" y2="370.60" stroke="#111" stroke-width="0.8"/>
<line x1="279.25" y1="370.60" x2="282.05" y2="370.60" stroke="#111" stroke-width="0.8"/>
<rect x="277.50" y="373.61" width="6.30" height="23.09" fill="#1ec01e" stroke="#111" stroke-width="0.8"/>
<line x1="289.85" y1="372.61" x2="289.85" y2="370.60" stroke="#111" stroke-width="0.8"/>
<line x1="288.45" y1="370.60" x2="291.25" y2="370.60" stroke="#111" stroke-width="0.8"/>
<rect x="286.70" y="372.61" width="6.30" height="24.09" fill="#1414ee" stroke="#111" stroke-width="0.8"/>
<line x1="285.00" y1="396.70" x2="285.00" y2="398.90" stroke="#161616" stroke-width="1.0"/>
<text x="287.00" y="403.70" font-family='"Liberation Serif", serif' font-size="5.25" font-weight="normal" text-anchor="end" fill="#000" transform="rotate(-38 287.0 403.7)">DM1</text>
<line x1="305.15" y1="376.62" x2="305.15" y2="374.62" stroke="#111" stroke-width="0.8"/>
<line x1="303.75" y1="374.62" x2="306.55" y2="374.62" stroke="#111" stroke-width="0.8"/>
<rect x="302.00" y="376.62" width="6.30" height="20.07" fill="#1ec01e" stroke="#111" stroke-width="0.8"/>
<line x1="314.60" y1="375.62" x2="314.60" y2="370.20" stroke="#111" stroke-width="0.8"/>
<line x1="313.20" y1="370.20" x2="316.00" y2="370.20" stroke="#111" stroke-width="0.8"/>
<rect x="311.70" y="375.62" width="5.80" height="21.08" fill="#1414ee" stroke="#111" stroke-width="0.8"/>
<line x1="309.75" y1="396.70" x2="309.75" y2="398.90" stroke="#161616" stroke-width="1.0"/>
<text x="311.75" y="403.70" font-family='"Liberation Serif", serif' font-size="5.25" font-weight="normal" text-anchor="end" fill="#000" transform="rotate(-38 311.75 403.7)">DM1-mPEG-PGNSs</text>
<line x1="329.15" y1="357.55" x2="329.15" y2="353.14" stroke="#111" stroke-width="0.8"/>
<line x1="327.75" y1="353.14" x2="330.55" y2="353.14" stroke="#111" stroke-width="0.8"/>
<rect x="326.00" y="357.55" width="6.30" height="39.15" fill="#1ec01e" stroke="#111" stroke-width="0.8"/>
<line x1="338.95" y1="379.64" x2="338.95" y2="376.62" stroke="#111" stroke-width="0.8"/>
<line x1="337.55" y1="376.62" x2="340.35" y2="376.62" stroke="#111" stroke-width="0.8"/>
<rect x="336.30" y="379.64" width="5.30" height="17.06" fill="#1414ee" stroke="#111" stroke-width="0.8"/>
<line x1="334.05" y1="396.70" x2="334.05" y2="398.90" stroke="#161616" stroke-width="1.0"/>
<text x="336.05" y="403.70" font-family='"Liberation Serif", serif' font-size="5.25" font-weight="normal" text-anchor="end" fill="#000" transform="rotate(-38 336.05 403.7)">DM1-mPEG/HER-PGNSs</text>
<line x1="353.70" y1="336.88" x2="353.70" y2="333.87" stroke="#111" stroke-width="0.8"/>
<line x1="352.30" y1="333.87" x2="355.10" y2="333.87" stroke="#111" stroke-width="0.8"/>
<rect x="350.60" y="336.88" width="6.20" height="59.82" fill="#1ec01e" stroke="#111" stroke-width="0.8"/>
<line x1="362.95" y1="354.54" x2="362.95" y2="351.53" stroke="#111" stroke-width="0.8"/>
<line x1="361.55" y1="351.53" x2="364.35" y2="351.53" stroke="#111" stroke-width="0.8"/>
<rect x="360.10" y="354.54" width="5.70" height="42.16" fill="#1414ee" stroke="#111" stroke-width="0.8"/>
<line x1="358.20" y1="396.70" x2="358.20" y2="398.90" stroke="#161616" stroke-width="1.0"/>
<text x="360.20" y="403.70" font-family='"Liberation Serif", serif' font-size="5.25" font-weight="normal" text-anchor="end" fill="#000" transform="rotate(-38 360.2 403.7)">DM1-mPEG/HER-PGNSs+NIR</text>
<rect x="253.7" y="320.0" width="9.3" height="4.5" fill="#1ec01e" stroke="#111" stroke-width="0.8"/>
<rect x="253.7" y="329.2" width="9.3" height="4.6" fill="#1414ee" stroke="#111" stroke-width="0.8"/>
<text x="267.60" y="324.70" font-family='"Liberation Serif", serif' font-size="6.9" font-weight="normal" text-anchor="start" fill="#000">SK-BR-3 cell</text>
<text x="267.60" y="334.00" font-family='"Liberation Serif", serif' font-size="6.9" font-weight="normal" text-anchor="start" fill="#000">MCF 7cells</text>
<polyline points="329.20,350.63 329.20,348.60 339.00,348.60 339.00,375.20" fill="none" stroke="#333" stroke-width="0.8"/>
<text x="334.10" y="348.40" font-family='"Liberation Serif", serif' font-size="5.6" font-weight="bold" text-anchor="middle" fill="#222">**</text>
<polyline points="353.80,332.46 353.80,330.00 362.60,330.00 362.60,350.53" fill="none" stroke="#333" stroke-width="0.8"/>
<text x="358.20" y="329.80" font-family='"Liberation Serif", serif' font-size="5.6" font-weight="bold" text-anchor="middle" fill="#222">**</text>
<text x="421.20" y="313.00" font-family='"Liberation Serif", serif' font-size="14.5" font-weight="bold" text-anchor="start" fill="#000">i</text>
<text x="494.50" y="309.80" font-family='"Liberation Serif", serif' font-size="6.8" font-weight="normal" text-anchor="middle" fill="#000">-NIR</text>
<text x="577.80" y="309.80" font-family='"Liberation Serif", serif' font-size="6.8" font-weight="normal" text-anchor="middle" fill="#000">+NIR</text>
<path d="M452.9,321.6 Q452.9,318.4 455.9,318.4 L490.8,318.4 Q492.8,318.4 492.8,313.2 Q492.8,318.4 494.8,318.4 L529.6,318.4 Q532.6,318.4 532.6,321.6" fill="none" stroke="#333" stroke-width="0.7"/>
<path d="M541.2,321.6 Q541.2,318.4 544.2,318.4 L575.5,318.4 Q577.5,318.4 577.5,313.2 Q577.5,318.4 579.5,318.4 L610.8,318.4 Q613.8,318.4 613.8,321.6" fill="none" stroke="#333" stroke-width="0.7"/>
<text x="461.10" y="332.00" font-family='"Liberation Serif", serif' font-size="4.75" font-weight="normal" text-anchor="middle" fill="#000">Control</text>
<text x="485.60" y="331.80" font-family='"Liberation Serif", serif' font-size="4.75" font-weight="normal" text-anchor="middle" fill="#000">PGNSs</text>
<text x="548.00" y="333.60" font-family='"Liberation Serif", serif' font-size="4.75" font-weight="normal" text-anchor="middle" fill="#000">Control</text>
<text x="566.40" y="333.60" font-family='"Liberation Serif", serif' font-size="4.75" font-weight="normal" text-anchor="middle" fill="#000">PGNSs</text>
<text x="499.00" y="328.30" font-family='"Liberation Serif", serif' font-size="4.75" font-weight="normal" text-anchor="start" fill="#000">mPEG</text>
<text x="498.70" y="333.20" font-family='"Liberation Serif", serif' font-size="4.75" font-weight="normal" text-anchor="start" fill="#000">-PGNSs</text>
<text x="517.70" y="328.30" font-family='"Liberation Serif", serif' font-size="4.75" font-weight="normal" text-anchor="start" fill="#000">mPEG/HER</text>
<text x="517.40" y="333.20" font-family='"Liberation Serif", serif' font-size="4.75" font-weight="normal" text-anchor="start" fill="#000">-PGNSs</text>
<text x="578.60" y="330.10" font-family='"Liberation Serif", serif' font-size="4.75" font-weight="normal" text-anchor="start" fill="#000">mPEG</text>
<text x="578.30" y="335.00" font-family='"Liberation Serif", serif' font-size="4.75" font-weight="normal" text-anchor="start" fill="#000">-PGNSs</text>
<text x="596.40" y="330.10" font-family='"Liberation Serif", serif' font-size="4.75" font-weight="normal" text-anchor="start" fill="#000">mPEG/HER</text>
<text x="596.10" y="335.00" font-family='"Liberation Serif", serif' font-size="4.75" font-weight="normal" text-anchor="start" fill="#000">-PGNSs</text>
<text x="424.70" y="359.80" font-family='"Liberation Serif", serif' font-size="7.2" font-weight="normal" text-anchor="start" fill="#111">HSP70</text>
<text x="422.20" y="401.40" font-family='"Liberation Serif", serif' font-size="7.0" font-weight="normal" text-anchor="start" fill="#111">GAPDH</text>
<defs><filter id="bb" x="-30%" y="-100%" width="160%" height="300%"><feGaussianBlur stdDeviation="0.95"/></filter><filter id="bb2" x="-10%" y="-10%" width="120%" height="120%"><feGaussianBlur stdDeviation="0.4"/></filter></defs>
<defs><linearGradient id="gh1" x1="0" y1="0" x2="0" y2="1"><stop offset="0" stop-color="#b8b8b8"/><stop offset="0.5" stop-color="#bdbdbd"/><stop offset="1" stop-color="#c1c1c1"/></linearGradient></defs>
<rect x="450.9" y="338.3" width="84.2" height="37.3" fill="url(#gh1)" filter="url(#bb2)"/>
<rect x="541.2" y="338.5" width="72.7" height="36.6" fill="#c4c4c4" filter="url(#bb2)"/>
<rect x="450.8" y="381.2" width="83.5" height="35.4" fill="#c3c3c3" filter="url(#bb2)"/>
<rect x="541.7" y="381.4" width="72.2" height="35.2" fill="#c8c8c8" filter="url(#bb2)"/>
<g filter="url(#bb)"><rect x="459.0" y="358.1" width="14.4" height="3.4" rx="1.7" fill="#262626" opacity="1.0" transform="rotate(-3 466.2 359.8)"/><rect x="480.5" y="357.3" width="13.3" height="3.4" rx="1.7" fill="#242424" opacity="1.0" transform="rotate(-3 487.1 359.0)"/><rect x="500.0" y="355.5" width="13.2" height="3.6" rx="1.8" fill="#1e1e1e" opacity="1.0" transform="rotate(-2 506.6 357.3)"/><rect x="519.3" y="354.5" width="13.3" height="3.6" rx="1.8" fill="#1e1e1e" opacity="1.0" transform="rotate(-2 526.0 356.3)"/><rect x="542.4" y="357.2" width="12.4" height="3.4" rx="1.7" fill="#333333" opacity="1.0" transform="rotate(0 548.6 358.9)"/><rect x="561.5" y="357.0" width="12.0" height="4.4" rx="2.2" fill="#1c1c1c" opacity="1.0" transform="rotate(0 567.5 359.2)"/><rect x="579.6" y="357.0" width="13.0" height="4.8" rx="2.4" fill="#161616" opacity="1.0" transform="rotate(0 586.1 359.4)"/><rect x="597.7" y="357.8" width="14.0" height="5.2" rx="2.6" fill="#141414" opacity="1.0" transform="rotate(0 604.7 360.4)"/><rect x="458.7" y="396.6" width="14.9" height="6.6" rx="3.3" fill="#0e0e0e" opacity="1.0" transform="rotate(0 466.1 399.9)"/><rect x="478.4" y="396.0" width="15.3" height="6.6" rx="3.3" fill="#0e0e0e" opacity="1.0" transform="rotate(0 486.0 399.3)"/><rect x="498.3" y="395.1" width="15.1" height="6.8" rx="3.4" fill="#0e0e0e" opacity="1.0" transform="rotate(0 505.9 398.5)"/><rect x="517.0" y="394.8" width="15.0" height="6.4" rx="3.2" fill="#121212" opacity="1.0" transform="rotate(0 524.5 398.0)"/><rect x="543.0" y="394.6" width="15.2" height="6.8" rx="3.4" fill="#0e0e0e" opacity="1.0" transform="rotate(0 550.6 398.0)"/><rect x="560.9" y="395.1" width="14.9" height="6.8" rx="3.4" fill="#0e0e0e" opacity="1.0" transform="rotate(0 568.3 398.5)"/><rect x="579.2" y="396.0" width="14.3" height="6.6" rx="3.3" fill="#101010" opacity="1.0" transform="rotate(0 586.4 399.3)"/><rect x="597.2" y="395.7" width="15.2" height="7.6" rx="3.8" fill="#0c0c0c" opacity="1.0" transform="rotate(0 604.8 399.5)"/></g>
</svg></body></html>
